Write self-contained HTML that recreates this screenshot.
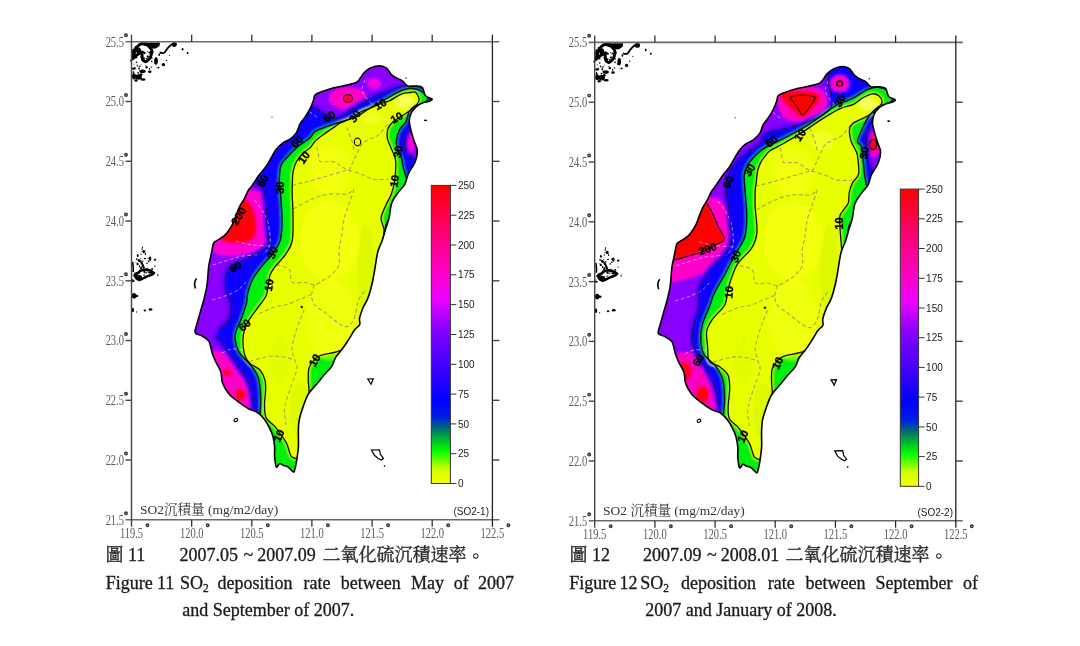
<!DOCTYPE html>
<html><head><meta charset="utf-8">
<style>
html,body{margin:0;padding:0;background:#fff;}
body{width:1080px;height:646px;overflow:hidden;position:relative;}
svg{position:absolute;left:0;top:0;}
.ax{font-family:"Liberation Serif",serif;font-size:15px;fill:#5a5a5a;}
.cb{font-family:"Liberation Sans",sans-serif;font-size:10px;fill:#222;}
.lab{font-family:"Liberation Serif","Noto Serif CJK SC",serif;font-size:13.5px;fill:#333;}
.cl{font-family:"Liberation Sans",sans-serif;font-size:11px;font-weight:bold;fill:#000;stroke:#000;stroke-width:0.35px;}
.tag{font-family:"Liberation Sans",sans-serif;font-size:10px;fill:#222;}
.cap{font-family:"Liberation Serif","Noto Serif CJK SC",serif;font-size:18px;fill:#1a1a1a;stroke:#1a1a1a;stroke-width:0.3px;}
.capz{font-family:"Liberation Serif","Noto Serif CJK SC",serif;font-size:18px;fill:#2a2a2a;stroke:#2a2a2a;stroke-width:0.35px;}
</style></head><body>
<svg width="1080" height="646" viewBox="0 0 1080 646">
<defs>
<linearGradient id="g1" x1="0" y1="1" x2="0" y2="0">
<stop offset="0" stop-color="#ffff00"/>
<stop offset="0.05" stop-color="#c8ff00"/>
<stop offset="0.11" stop-color="#00ff00"/>
<stop offset="0.16" stop-color="#00a040"/>
<stop offset="0.19" stop-color="#006080"/>
<stop offset="0.22" stop-color="#0020e0"/>
<stop offset="0.28" stop-color="#0000ff"/>
<stop offset="0.40" stop-color="#4400ff"/>
<stop offset="0.52" stop-color="#8800ff"/>
<stop offset="0.62" stop-color="#ee00ff"/>
<stop offset="0.72" stop-color="#ff00c0"/>
<stop offset="0.85" stop-color="#ff0070"/>
<stop offset="1" stop-color="#ff0000"/>
</linearGradient>
<linearGradient id="g2" x1="0" y1="1" x2="0" y2="0">
<stop offset="0" stop-color="#ffff00"/>
<stop offset="0.05" stop-color="#c8ff00"/>
<stop offset="0.11" stop-color="#00ff00"/>
<stop offset="0.16" stop-color="#00a040"/>
<stop offset="0.19" stop-color="#006080"/>
<stop offset="0.22" stop-color="#0020e0"/>
<stop offset="0.28" stop-color="#0000ff"/>
<stop offset="0.40" stop-color="#4400ff"/>
<stop offset="0.52" stop-color="#8800ff"/>
<stop offset="0.62" stop-color="#ee00ff"/>
<stop offset="0.72" stop-color="#ff00c0"/>
<stop offset="0.85" stop-color="#ff0070"/>
<stop offset="1" stop-color="#ff0000"/>
</linearGradient>
<filter id="blur3" x="-5%" y="-5%" width="110%" height="110%"><feGaussianBlur stdDeviation="1.3"/></filter>
</defs>
<!-- LEFT MAP -->
<path d="M132.5,58.6 C134,54 135,50 136.2,48 C138.5,45 141,43.5 142.4,43.7 C145.5,44 148,45 148.6,46.2 C151,48.5 152,50 151.7,51.1 C151.5,54 151,56 150.4,57.3 C148.5,60 147,61.5 145.5,61.7 C143.5,61 142.5,60 142.4,58.6 C142,56 142,54 141.8,52.4 C139.5,53 137.5,54.5 136.2,55.5 C134.5,57 133.5,58 132.5,58.6 Z" fill="none" stroke="#000" stroke-width="3"/>
<path d="M142,42.5 L160,42.5 L159.5,46 C157,48 155,49 153,48.5 C150,47.5 147,46 144,45.5 Z" fill="#000"/>
<path d="M159.7,52.4 C162,53.5 164,53 164.7,52.4 C166.5,50 167,48.5 168.4,47.4 C170,45.5 171.5,44 173.3,43.7" fill="none" stroke="#000" stroke-width="1.8"/>
<ellipse cx="174.3" cy="44.6" rx="2.6" ry="2.3" fill="#000"/>
<ellipse cx="156" cy="61" rx="1.8" ry="3.8" fill="#000"/>
<ellipse cx="163.4" cy="64.6" rx="1.7" ry="1.6" fill="#000"/>
<ellipse cx="158.5" cy="67.6" rx="1" ry="0.9" fill="#000"/>
<ellipse cx="169.6" cy="55.5" rx="0.6" ry="0.6" fill="#000"/>
<ellipse cx="166.5" cy="60.4" rx="0.7" ry="0.7" fill="#000"/>
<ellipse cx="182.6" cy="49.3" rx="0.9" ry="1.3" fill="#000"/>
<ellipse cx="187.6" cy="53" rx="1" ry="1" fill="#000"/>
<ellipse cx="133.7" cy="68.6" rx="1.8" ry="1.2" fill="#000"/>
<ellipse cx="142.5" cy="71.2" rx="3.2" ry="1.8" fill="#000"/>
<ellipse cx="149.8" cy="71.8" rx="1.8" ry="1.3" fill="#000"/>
<ellipse cx="138.5" cy="77" rx="3.3" ry="2.8" fill="#000"/>
<ellipse cx="134" cy="76.5" rx="2" ry="3" fill="#000"/>
<ellipse cx="141" cy="74.5" rx="1.5" ry="1.2" fill="#000"/>
<ellipse cx="136" cy="80.5" rx="1.6" ry="1.2" fill="#000"/>
<ellipse cx="143" cy="79.5" rx="2.5" ry="1.2" fill="#000"/>
<ellipse cx="139.9" cy="66.2" rx="0.8" ry="0.8" fill="#000"/>
<ellipse cx="138.8" cy="51" rx="2.2" ry="3.5" fill="#000"/>
<ellipse cx="133.5" cy="52" rx="1.5" ry="3.5" fill="#000"/>
<path d="M135,276 C138,272 141,270 145,269.5 C149,269.5 152,271 154,273 C153,275 150,275.5 147,276.5 C144,277.5 142,279.5 139.5,280 C137,279.5 135.5,278 135,276 Z" fill="none" stroke="#000" stroke-width="2.4"/>
<path d="M141,262 C142.5,264 143.5,266 144,268.5" fill="none" stroke="#000" stroke-width="2"/>
<path d="M132.6,262 C133.2,265 133.4,268.5 133.2,272" fill="none" stroke="#000" stroke-width="1.6"/>
<ellipse cx="143.9" cy="251.6" rx="1.6" ry="1.6" fill="#000"/>
<ellipse cx="137.7" cy="255.5" rx="0.9" ry="1.5" fill="#000"/>
<ellipse cx="142.4" cy="247.3" rx="0.5" ry="1" fill="#000"/>
<ellipse cx="150.1" cy="258.8" rx="1.2" ry="2.2" fill="#000"/>
<ellipse cx="147" cy="263.2" rx="0.8" ry="0.8" fill="#000"/>
<ellipse cx="139" cy="260.5" rx="1.2" ry="1.2" fill="#000"/>
<ellipse cx="154.8" cy="266.3" rx="0.7" ry="0.7" fill="#000"/>
<ellipse cx="157.9" cy="275" rx="0.5" ry="1.2" fill="#000"/>
<ellipse cx="133.1" cy="281" rx="1.6" ry="0.9" fill="#000"/>
<ellipse cx="139" cy="277" rx="3" ry="2" fill="#000"/>
<ellipse cx="151" cy="272.5" rx="3" ry="1.3" fill="#000"/>
<ellipse cx="134" cy="295.8" rx="2.2" ry="2.8" fill="#000"/>
<ellipse cx="136" cy="296" rx="2.5" ry="1.2" fill="#000"/>
<ellipse cx="132.8" cy="310" rx="1.2" ry="2.2" fill="#000"/>
<ellipse cx="144.9" cy="310.4" rx="1.3" ry="1" fill="#000"/>
<ellipse cx="150.5" cy="309.5" rx="1.9" ry="1.3" fill="#000"/>
<ellipse cx="136.5" cy="312" rx="0.5" ry="0.7" fill="#000"/>
<ellipse cx="138.6" cy="259.6" rx="0.99" ry="0.47" fill="#000"/>
<ellipse cx="140.6" cy="261.8" rx="0.45" ry="0.86" fill="#000"/>
<ellipse cx="135.9" cy="262.6" rx="0.46" ry="0.48" fill="#000"/>
<ellipse cx="139.5" cy="266.7" rx="0.51" ry="0.60" fill="#000"/>
<ellipse cx="141.5" cy="268.0" rx="0.92" ry="0.76" fill="#000"/>
<ellipse cx="144.8" cy="258.5" rx="1.17" ry="0.66" fill="#000"/>
<ellipse cx="136.9" cy="259.2" rx="0.68" ry="1.13" fill="#000"/>
<ellipse cx="137.2" cy="264.1" rx="0.98" ry="0.74" fill="#000"/>
<ellipse cx="140.7" cy="258.7" rx="0.45" ry="0.59" fill="#000"/>
<ellipse cx="142.0" cy="262.5" rx="0.68" ry="0.93" fill="#000"/>
<ellipse cx="139.8" cy="261.1" rx="1.11" ry="1.03" fill="#000"/>
<ellipse cx="137.8" cy="264.0" rx="0.87" ry="1.19" fill="#000"/>
<ellipse cx="142.4" cy="261.0" rx="1.28" ry="0.51" fill="#000"/>
<ellipse cx="139.5" cy="265.9" rx="0.54" ry="0.84" fill="#000"/>
<ellipse cx="139.2" cy="272.8" rx="1.01" ry="0.86" fill="#000"/>
<ellipse cx="152.1" cy="269.0" rx="0.96" ry="0.88" fill="#000"/>
<ellipse cx="147.5" cy="270.5" rx="1.07" ry="1.16" fill="#000"/>
<ellipse cx="145.9" cy="272.8" rx="0.45" ry="0.96" fill="#000"/>
<ellipse cx="148.6" cy="276.3" rx="1.06" ry="0.63" fill="#000"/>
<ellipse cx="144.5" cy="272.8" rx="0.42" ry="0.77" fill="#000"/>
<ellipse cx="141.2" cy="266.9" rx="0.45" ry="1.01" fill="#000"/>
<ellipse cx="140.6" cy="268.3" rx="0.71" ry="1.10" fill="#000"/>
<ellipse cx="139.8" cy="270.5" rx="0.84" ry="1.11" fill="#000"/>
<ellipse cx="151.2" cy="274.9" rx="0.62" ry="0.73" fill="#000"/>
<ellipse cx="144.1" cy="275.1" rx="1.17" ry="0.52" fill="#000"/>
<ellipse cx="141.3" cy="268.1" rx="0.59" ry="0.79" fill="#000"/>
<ellipse cx="147.7" cy="268.4" rx="0.40" ry="0.74" fill="#000"/>
<ellipse cx="144.3" cy="271.7" rx="1.16" ry="0.95" fill="#000"/>
<ellipse cx="146.5" cy="272.3" rx="0.94" ry="0.44" fill="#000"/>
<ellipse cx="152.5" cy="274.0" rx="1.10" ry="1.04" fill="#000"/>
<ellipse cx="144.6" cy="269.9" rx="0.48" ry="0.91" fill="#000"/>
<ellipse cx="139.6" cy="266.3" rx="0.57" ry="0.53" fill="#000"/>
<ellipse cx="135.0" cy="273.3" rx="0.40" ry="0.52" fill="#000"/>
<ellipse cx="133.2" cy="275.4" rx="0.42" ry="1.10" fill="#000"/>
<ellipse cx="137.1" cy="274.0" rx="0.60" ry="0.68" fill="#000"/>
<ellipse cx="135.2" cy="273.8" rx="1.08" ry="1.19" fill="#000"/>
<ellipse cx="135.9" cy="276.1" rx="0.47" ry="0.48" fill="#000"/>
<ellipse cx="135.0" cy="274.7" rx="1.06" ry="0.53" fill="#000"/>
<ellipse cx="132.6" cy="279.2" rx="0.82" ry="0.52" fill="#000"/>
<ellipse cx="136.5" cy="273.2" rx="0.82" ry="1.18" fill="#000"/>
<ellipse cx="145.4" cy="253.5" rx="0.50" ry="0.55" fill="#000"/>
<ellipse cx="141.1" cy="254.2" rx="0.61" ry="0.71" fill="#000"/>
<ellipse cx="142.1" cy="249.1" rx="0.72" ry="0.79" fill="#000"/>
<ellipse cx="145.4" cy="254.5" rx="0.73" ry="0.70" fill="#000"/>
<ellipse cx="141.4" cy="251.8" rx="0.54" ry="0.41" fill="#000"/>
<ellipse cx="148.2" cy="258.5" rx="0.53" ry="0.75" fill="#000"/>
<ellipse cx="155.3" cy="259.7" rx="0.87" ry="0.89" fill="#000"/>
<ellipse cx="155.3" cy="259.1" rx="0.51" ry="0.51" fill="#000"/>
<ellipse cx="149.5" cy="257.9" rx="0.71" ry="0.85" fill="#000"/>
<ellipse cx="154.4" cy="260.0" rx="0.73" ry="0.80" fill="#000"/>
<ellipse cx="148.6" cy="261.4" rx="0.85" ry="0.79" fill="#000"/>
<ellipse cx="153.0" cy="52.2" rx="0.56" ry="1.11" fill="#000"/>
<ellipse cx="141.3" cy="57.0" rx="1.27" ry="0.76" fill="#000"/>
<ellipse cx="143.2" cy="59.2" rx="1.05" ry="0.55" fill="#000"/>
<ellipse cx="135.6" cy="47.3" rx="1.21" ry="1.13" fill="#000"/>
<ellipse cx="136.1" cy="57.4" rx="1.28" ry="0.99" fill="#000"/>
<ellipse cx="141.8" cy="53.2" rx="0.52" ry="0.41" fill="#000"/>
<ellipse cx="159.2" cy="54.7" rx="0.87" ry="1.24" fill="#000"/>
<ellipse cx="144.1" cy="58.1" rx="1.14" ry="0.59" fill="#000"/>
<ellipse cx="139.1" cy="49.4" rx="0.62" ry="0.93" fill="#000"/>
<ellipse cx="139.3" cy="51.3" rx="0.52" ry="1.22" fill="#000"/>
<ellipse cx="141.9" cy="51.9" rx="0.93" ry="1.21" fill="#000"/>
<ellipse cx="143.8" cy="58.8" rx="0.85" ry="0.88" fill="#000"/>
<ellipse cx="146.7" cy="45.3" rx="0.80" ry="0.56" fill="#000"/>
<ellipse cx="132.1" cy="57.0" rx="0.56" ry="0.83" fill="#000"/>
<ellipse cx="152.3" cy="53.3" rx="0.69" ry="0.87" fill="#000"/>
<ellipse cx="147.6" cy="56.8" rx="0.50" ry="0.90" fill="#000"/>
<ellipse cx="139.0" cy="49.2" rx="1.10" ry="0.86" fill="#000"/>
<ellipse cx="147.7" cy="56.4" rx="1.22" ry="0.80" fill="#000"/>
<ellipse cx="149.2" cy="52.6" rx="0.86" ry="1.02" fill="#000"/>
<ellipse cx="144.7" cy="53.0" rx="0.83" ry="1.25" fill="#000"/>
<ellipse cx="151.6" cy="58.1" rx="1.25" ry="0.63" fill="#000"/>
<ellipse cx="147.7" cy="59.1" rx="1.16" ry="0.52" fill="#000"/>
<ellipse cx="135.4" cy="51.6" rx="0.47" ry="0.62" fill="#000"/>
<ellipse cx="134.0" cy="55.0" rx="1.11" ry="1.21" fill="#000"/>
<ellipse cx="136.3" cy="55.7" rx="0.99" ry="0.53" fill="#000"/>
<ellipse cx="156.7" cy="59.5" rx="0.60" ry="1.26" fill="#000"/>
<ellipse cx="143.2" cy="52.3" rx="1.29" ry="1.15" fill="#000"/>
<ellipse cx="136.5" cy="51.5" rx="0.86" ry="0.71" fill="#000"/>
<ellipse cx="137.5" cy="49.8" rx="1.05" ry="0.42" fill="#000"/>
<ellipse cx="147.5" cy="51.6" rx="0.42" ry="0.70" fill="#000"/>
<ellipse cx="154.4" cy="63.1" rx="0.44" ry="0.99" fill="#000"/>
<ellipse cx="156.8" cy="67.7" rx="0.46" ry="0.56" fill="#000"/>
<ellipse cx="145.6" cy="65.8" rx="0.56" ry="0.48" fill="#000"/>
<ellipse cx="151.3" cy="67.1" rx="0.89" ry="0.56" fill="#000"/>
<ellipse cx="147.2" cy="67.2" rx="0.74" ry="0.82" fill="#000"/>
<ellipse cx="146.3" cy="58.6" rx="0.81" ry="0.66" fill="#000"/>
<ellipse cx="146.1" cy="67.4" rx="0.78" ry="0.88" fill="#000"/>
<ellipse cx="146.3" cy="66.6" rx="0.44" ry="0.92" fill="#000"/>
<ellipse cx="151.8" cy="61.4" rx="0.73" ry="0.96" fill="#000"/>
<ellipse cx="149.0" cy="59.3" rx="0.72" ry="0.54" fill="#000"/>
<ellipse cx="134.0" cy="64.1" rx="0.44" ry="0.54" fill="#000"/>
<ellipse cx="137.6" cy="66.0" rx="0.93" ry="0.60" fill="#000"/>
<ellipse cx="141.0" cy="64.3" rx="0.64" ry="0.41" fill="#000"/>
<ellipse cx="136.5" cy="62.2" rx="0.91" ry="0.79" fill="#000"/>
<ellipse cx="135.4" cy="68.2" rx="1.05" ry="0.47" fill="#000"/>
<ellipse cx="146.7" cy="67.6" rx="0.75" ry="0.98" fill="#000"/>
<ellipse cx="139.1" cy="68.6" rx="0.88" ry="1.09" fill="#000"/>
<ellipse cx="138.2" cy="72.8" rx="0.89" ry="0.85" fill="#000"/>
<ellipse cx="139.3" cy="66.5" rx="0.44" ry="0.49" fill="#000"/>
<ellipse cx="133.3" cy="71.6" rx="0.58" ry="0.51" fill="#000"/>
<ellipse cx="133.5" cy="72.9" rx="1.01" ry="0.87" fill="#000"/>
<ellipse cx="137.1" cy="65.1" rx="0.61" ry="0.72" fill="#000"/>
<ellipse cx="134.8" cy="67.8" rx="0.58" ry="1.07" fill="#000"/>
<ellipse cx="149.5" cy="69.1" rx="0.57" ry="1.08" fill="#000"/>
<path d="M196.5,278.5 C194.5,281 194.2,285 195.5,288.5" fill="none" stroke="#000" stroke-width="1.6"/>
<path d="M367.8,379 L373.3,378.8 L371,384.3 Z" fill="none" stroke="#000" stroke-width="1.2"/>
<path d="M371.5,450 L379.5,449.8 L380.4,454.5 L383.5,458.3 L381.4,460 L378.2,458.5 L374.4,455.3 Z" fill="none" stroke="#000" stroke-width="1.2"/>
<ellipse cx="384.5" cy="466.1" rx="0.8" ry="0.8" fill="#000"/>
<ellipse cx="235.8" cy="420" rx="2" ry="1.5" fill="none" stroke="#000" stroke-width="1.1" transform="rotate(-30 235.8 420)"/>
<ellipse cx="425.5" cy="120.3" rx="1.6" ry="0.9" fill="#000"/>
<ellipse cx="406" cy="78" rx="0.7" ry="0.7" fill="#000"/>
<ellipse cx="272" cy="117" rx="0.6" ry="0.6" fill="#000"/>
<g transform="translate(463.2 0.8)"><path d="M132.5,58.6 C134,54 135,50 136.2,48 C138.5,45 141,43.5 142.4,43.7 C145.5,44 148,45 148.6,46.2 C151,48.5 152,50 151.7,51.1 C151.5,54 151,56 150.4,57.3 C148.5,60 147,61.5 145.5,61.7 C143.5,61 142.5,60 142.4,58.6 C142,56 142,54 141.8,52.4 C139.5,53 137.5,54.5 136.2,55.5 C134.5,57 133.5,58 132.5,58.6 Z" fill="none" stroke="#000" stroke-width="3"/>
<path d="M142,42.5 L160,42.5 L159.5,46 C157,48 155,49 153,48.5 C150,47.5 147,46 144,45.5 Z" fill="#000"/>
<path d="M159.7,52.4 C162,53.5 164,53 164.7,52.4 C166.5,50 167,48.5 168.4,47.4 C170,45.5 171.5,44 173.3,43.7" fill="none" stroke="#000" stroke-width="1.8"/>
<ellipse cx="174.3" cy="44.6" rx="2.6" ry="2.3" fill="#000"/>
<ellipse cx="156" cy="61" rx="1.8" ry="3.8" fill="#000"/>
<ellipse cx="163.4" cy="64.6" rx="1.7" ry="1.6" fill="#000"/>
<ellipse cx="158.5" cy="67.6" rx="1" ry="0.9" fill="#000"/>
<ellipse cx="169.6" cy="55.5" rx="0.6" ry="0.6" fill="#000"/>
<ellipse cx="166.5" cy="60.4" rx="0.7" ry="0.7" fill="#000"/>
<ellipse cx="182.6" cy="49.3" rx="0.9" ry="1.3" fill="#000"/>
<ellipse cx="187.6" cy="53" rx="1" ry="1" fill="#000"/>
<ellipse cx="133.7" cy="68.6" rx="1.8" ry="1.2" fill="#000"/>
<ellipse cx="142.5" cy="71.2" rx="3.2" ry="1.8" fill="#000"/>
<ellipse cx="149.8" cy="71.8" rx="1.8" ry="1.3" fill="#000"/>
<ellipse cx="138.5" cy="77" rx="3.3" ry="2.8" fill="#000"/>
<ellipse cx="134" cy="76.5" rx="2" ry="3" fill="#000"/>
<ellipse cx="141" cy="74.5" rx="1.5" ry="1.2" fill="#000"/>
<ellipse cx="136" cy="80.5" rx="1.6" ry="1.2" fill="#000"/>
<ellipse cx="143" cy="79.5" rx="2.5" ry="1.2" fill="#000"/>
<ellipse cx="139.9" cy="66.2" rx="0.8" ry="0.8" fill="#000"/>
<ellipse cx="138.8" cy="51" rx="2.2" ry="3.5" fill="#000"/>
<ellipse cx="133.5" cy="52" rx="1.5" ry="3.5" fill="#000"/>
<path d="M135,276 C138,272 141,270 145,269.5 C149,269.5 152,271 154,273 C153,275 150,275.5 147,276.5 C144,277.5 142,279.5 139.5,280 C137,279.5 135.5,278 135,276 Z" fill="none" stroke="#000" stroke-width="2.4"/>
<path d="M141,262 C142.5,264 143.5,266 144,268.5" fill="none" stroke="#000" stroke-width="2"/>
<path d="M132.6,262 C133.2,265 133.4,268.5 133.2,272" fill="none" stroke="#000" stroke-width="1.6"/>
<ellipse cx="143.9" cy="251.6" rx="1.6" ry="1.6" fill="#000"/>
<ellipse cx="137.7" cy="255.5" rx="0.9" ry="1.5" fill="#000"/>
<ellipse cx="142.4" cy="247.3" rx="0.5" ry="1" fill="#000"/>
<ellipse cx="150.1" cy="258.8" rx="1.2" ry="2.2" fill="#000"/>
<ellipse cx="147" cy="263.2" rx="0.8" ry="0.8" fill="#000"/>
<ellipse cx="139" cy="260.5" rx="1.2" ry="1.2" fill="#000"/>
<ellipse cx="154.8" cy="266.3" rx="0.7" ry="0.7" fill="#000"/>
<ellipse cx="157.9" cy="275" rx="0.5" ry="1.2" fill="#000"/>
<ellipse cx="133.1" cy="281" rx="1.6" ry="0.9" fill="#000"/>
<ellipse cx="139" cy="277" rx="3" ry="2" fill="#000"/>
<ellipse cx="151" cy="272.5" rx="3" ry="1.3" fill="#000"/>
<ellipse cx="134" cy="295.8" rx="2.2" ry="2.8" fill="#000"/>
<ellipse cx="136" cy="296" rx="2.5" ry="1.2" fill="#000"/>
<ellipse cx="132.8" cy="310" rx="1.2" ry="2.2" fill="#000"/>
<ellipse cx="144.9" cy="310.4" rx="1.3" ry="1" fill="#000"/>
<ellipse cx="150.5" cy="309.5" rx="1.9" ry="1.3" fill="#000"/>
<ellipse cx="136.5" cy="312" rx="0.5" ry="0.7" fill="#000"/>
<ellipse cx="138.6" cy="259.6" rx="0.99" ry="0.47" fill="#000"/>
<ellipse cx="140.6" cy="261.8" rx="0.45" ry="0.86" fill="#000"/>
<ellipse cx="135.9" cy="262.6" rx="0.46" ry="0.48" fill="#000"/>
<ellipse cx="139.5" cy="266.7" rx="0.51" ry="0.60" fill="#000"/>
<ellipse cx="141.5" cy="268.0" rx="0.92" ry="0.76" fill="#000"/>
<ellipse cx="144.8" cy="258.5" rx="1.17" ry="0.66" fill="#000"/>
<ellipse cx="136.9" cy="259.2" rx="0.68" ry="1.13" fill="#000"/>
<ellipse cx="137.2" cy="264.1" rx="0.98" ry="0.74" fill="#000"/>
<ellipse cx="140.7" cy="258.7" rx="0.45" ry="0.59" fill="#000"/>
<ellipse cx="142.0" cy="262.5" rx="0.68" ry="0.93" fill="#000"/>
<ellipse cx="139.8" cy="261.1" rx="1.11" ry="1.03" fill="#000"/>
<ellipse cx="137.8" cy="264.0" rx="0.87" ry="1.19" fill="#000"/>
<ellipse cx="142.4" cy="261.0" rx="1.28" ry="0.51" fill="#000"/>
<ellipse cx="139.5" cy="265.9" rx="0.54" ry="0.84" fill="#000"/>
<ellipse cx="139.2" cy="272.8" rx="1.01" ry="0.86" fill="#000"/>
<ellipse cx="152.1" cy="269.0" rx="0.96" ry="0.88" fill="#000"/>
<ellipse cx="147.5" cy="270.5" rx="1.07" ry="1.16" fill="#000"/>
<ellipse cx="145.9" cy="272.8" rx="0.45" ry="0.96" fill="#000"/>
<ellipse cx="148.6" cy="276.3" rx="1.06" ry="0.63" fill="#000"/>
<ellipse cx="144.5" cy="272.8" rx="0.42" ry="0.77" fill="#000"/>
<ellipse cx="141.2" cy="266.9" rx="0.45" ry="1.01" fill="#000"/>
<ellipse cx="140.6" cy="268.3" rx="0.71" ry="1.10" fill="#000"/>
<ellipse cx="139.8" cy="270.5" rx="0.84" ry="1.11" fill="#000"/>
<ellipse cx="151.2" cy="274.9" rx="0.62" ry="0.73" fill="#000"/>
<ellipse cx="144.1" cy="275.1" rx="1.17" ry="0.52" fill="#000"/>
<ellipse cx="141.3" cy="268.1" rx="0.59" ry="0.79" fill="#000"/>
<ellipse cx="147.7" cy="268.4" rx="0.40" ry="0.74" fill="#000"/>
<ellipse cx="144.3" cy="271.7" rx="1.16" ry="0.95" fill="#000"/>
<ellipse cx="146.5" cy="272.3" rx="0.94" ry="0.44" fill="#000"/>
<ellipse cx="152.5" cy="274.0" rx="1.10" ry="1.04" fill="#000"/>
<ellipse cx="144.6" cy="269.9" rx="0.48" ry="0.91" fill="#000"/>
<ellipse cx="139.6" cy="266.3" rx="0.57" ry="0.53" fill="#000"/>
<ellipse cx="135.0" cy="273.3" rx="0.40" ry="0.52" fill="#000"/>
<ellipse cx="133.2" cy="275.4" rx="0.42" ry="1.10" fill="#000"/>
<ellipse cx="137.1" cy="274.0" rx="0.60" ry="0.68" fill="#000"/>
<ellipse cx="135.2" cy="273.8" rx="1.08" ry="1.19" fill="#000"/>
<ellipse cx="135.9" cy="276.1" rx="0.47" ry="0.48" fill="#000"/>
<ellipse cx="135.0" cy="274.7" rx="1.06" ry="0.53" fill="#000"/>
<ellipse cx="132.6" cy="279.2" rx="0.82" ry="0.52" fill="#000"/>
<ellipse cx="136.5" cy="273.2" rx="0.82" ry="1.18" fill="#000"/>
<ellipse cx="145.4" cy="253.5" rx="0.50" ry="0.55" fill="#000"/>
<ellipse cx="141.1" cy="254.2" rx="0.61" ry="0.71" fill="#000"/>
<ellipse cx="142.1" cy="249.1" rx="0.72" ry="0.79" fill="#000"/>
<ellipse cx="145.4" cy="254.5" rx="0.73" ry="0.70" fill="#000"/>
<ellipse cx="141.4" cy="251.8" rx="0.54" ry="0.41" fill="#000"/>
<ellipse cx="148.2" cy="258.5" rx="0.53" ry="0.75" fill="#000"/>
<ellipse cx="155.3" cy="259.7" rx="0.87" ry="0.89" fill="#000"/>
<ellipse cx="155.3" cy="259.1" rx="0.51" ry="0.51" fill="#000"/>
<ellipse cx="149.5" cy="257.9" rx="0.71" ry="0.85" fill="#000"/>
<ellipse cx="154.4" cy="260.0" rx="0.73" ry="0.80" fill="#000"/>
<ellipse cx="148.6" cy="261.4" rx="0.85" ry="0.79" fill="#000"/>
<ellipse cx="153.0" cy="52.2" rx="0.56" ry="1.11" fill="#000"/>
<ellipse cx="141.3" cy="57.0" rx="1.27" ry="0.76" fill="#000"/>
<ellipse cx="143.2" cy="59.2" rx="1.05" ry="0.55" fill="#000"/>
<ellipse cx="135.6" cy="47.3" rx="1.21" ry="1.13" fill="#000"/>
<ellipse cx="136.1" cy="57.4" rx="1.28" ry="0.99" fill="#000"/>
<ellipse cx="141.8" cy="53.2" rx="0.52" ry="0.41" fill="#000"/>
<ellipse cx="159.2" cy="54.7" rx="0.87" ry="1.24" fill="#000"/>
<ellipse cx="144.1" cy="58.1" rx="1.14" ry="0.59" fill="#000"/>
<ellipse cx="139.1" cy="49.4" rx="0.62" ry="0.93" fill="#000"/>
<ellipse cx="139.3" cy="51.3" rx="0.52" ry="1.22" fill="#000"/>
<ellipse cx="141.9" cy="51.9" rx="0.93" ry="1.21" fill="#000"/>
<ellipse cx="143.8" cy="58.8" rx="0.85" ry="0.88" fill="#000"/>
<ellipse cx="146.7" cy="45.3" rx="0.80" ry="0.56" fill="#000"/>
<ellipse cx="132.1" cy="57.0" rx="0.56" ry="0.83" fill="#000"/>
<ellipse cx="152.3" cy="53.3" rx="0.69" ry="0.87" fill="#000"/>
<ellipse cx="147.6" cy="56.8" rx="0.50" ry="0.90" fill="#000"/>
<ellipse cx="139.0" cy="49.2" rx="1.10" ry="0.86" fill="#000"/>
<ellipse cx="147.7" cy="56.4" rx="1.22" ry="0.80" fill="#000"/>
<ellipse cx="149.2" cy="52.6" rx="0.86" ry="1.02" fill="#000"/>
<ellipse cx="144.7" cy="53.0" rx="0.83" ry="1.25" fill="#000"/>
<ellipse cx="151.6" cy="58.1" rx="1.25" ry="0.63" fill="#000"/>
<ellipse cx="147.7" cy="59.1" rx="1.16" ry="0.52" fill="#000"/>
<ellipse cx="135.4" cy="51.6" rx="0.47" ry="0.62" fill="#000"/>
<ellipse cx="134.0" cy="55.0" rx="1.11" ry="1.21" fill="#000"/>
<ellipse cx="136.3" cy="55.7" rx="0.99" ry="0.53" fill="#000"/>
<ellipse cx="156.7" cy="59.5" rx="0.60" ry="1.26" fill="#000"/>
<ellipse cx="143.2" cy="52.3" rx="1.29" ry="1.15" fill="#000"/>
<ellipse cx="136.5" cy="51.5" rx="0.86" ry="0.71" fill="#000"/>
<ellipse cx="137.5" cy="49.8" rx="1.05" ry="0.42" fill="#000"/>
<ellipse cx="147.5" cy="51.6" rx="0.42" ry="0.70" fill="#000"/>
<ellipse cx="154.4" cy="63.1" rx="0.44" ry="0.99" fill="#000"/>
<ellipse cx="156.8" cy="67.7" rx="0.46" ry="0.56" fill="#000"/>
<ellipse cx="145.6" cy="65.8" rx="0.56" ry="0.48" fill="#000"/>
<ellipse cx="151.3" cy="67.1" rx="0.89" ry="0.56" fill="#000"/>
<ellipse cx="147.2" cy="67.2" rx="0.74" ry="0.82" fill="#000"/>
<ellipse cx="146.3" cy="58.6" rx="0.81" ry="0.66" fill="#000"/>
<ellipse cx="146.1" cy="67.4" rx="0.78" ry="0.88" fill="#000"/>
<ellipse cx="146.3" cy="66.6" rx="0.44" ry="0.92" fill="#000"/>
<ellipse cx="151.8" cy="61.4" rx="0.73" ry="0.96" fill="#000"/>
<ellipse cx="149.0" cy="59.3" rx="0.72" ry="0.54" fill="#000"/>
<ellipse cx="134.0" cy="64.1" rx="0.44" ry="0.54" fill="#000"/>
<ellipse cx="137.6" cy="66.0" rx="0.93" ry="0.60" fill="#000"/>
<ellipse cx="141.0" cy="64.3" rx="0.64" ry="0.41" fill="#000"/>
<ellipse cx="136.5" cy="62.2" rx="0.91" ry="0.79" fill="#000"/>
<ellipse cx="135.4" cy="68.2" rx="1.05" ry="0.47" fill="#000"/>
<ellipse cx="146.7" cy="67.6" rx="0.75" ry="0.98" fill="#000"/>
<ellipse cx="139.1" cy="68.6" rx="0.88" ry="1.09" fill="#000"/>
<ellipse cx="138.2" cy="72.8" rx="0.89" ry="0.85" fill="#000"/>
<ellipse cx="139.3" cy="66.5" rx="0.44" ry="0.49" fill="#000"/>
<ellipse cx="133.3" cy="71.6" rx="0.58" ry="0.51" fill="#000"/>
<ellipse cx="133.5" cy="72.9" rx="1.01" ry="0.87" fill="#000"/>
<ellipse cx="137.1" cy="65.1" rx="0.61" ry="0.72" fill="#000"/>
<ellipse cx="134.8" cy="67.8" rx="0.58" ry="1.07" fill="#000"/>
<ellipse cx="149.5" cy="69.1" rx="0.57" ry="1.08" fill="#000"/>
<path d="M196.5,278.5 C194.5,281 194.2,285 195.5,288.5" fill="none" stroke="#000" stroke-width="1.6"/>
<path d="M367.8,379 L373.3,378.8 L371,384.3 Z" fill="none" stroke="#000" stroke-width="1.2"/>
<path d="M371.5,450 L379.5,449.8 L380.4,454.5 L383.5,458.3 L381.4,460 L378.2,458.5 L374.4,455.3 Z" fill="none" stroke="#000" stroke-width="1.2"/>
<ellipse cx="384.5" cy="466.1" rx="0.8" ry="0.8" fill="#000"/>
<ellipse cx="235.8" cy="420" rx="2" ry="1.5" fill="none" stroke="#000" stroke-width="1.1" transform="rotate(-30 235.8 420)"/>
<ellipse cx="425.5" cy="120.3" rx="1.6" ry="0.9" fill="#000"/>
<ellipse cx="406" cy="78" rx="0.7" ry="0.7" fill="#000"/>
<ellipse cx="272" cy="117" rx="0.6" ry="0.6" fill="#000"/></g>
<clipPath id="clipL"><path d="M315.0,95.0 C316.3,93.6 318.8,92.8 321.5,91.7 C324.2,90.6 327.8,89.4 331.3,88.4 C334.8,87.5 338.6,86.9 342.6,86.0 C346.7,85.1 352.6,84.1 355.6,82.8 C358.6,81.5 359.1,79.5 360.5,77.9 C361.9,76.3 362.2,74.6 363.8,73.0 C365.4,71.4 367.6,69.3 370.3,68.1 C373.0,66.9 377.3,65.7 380.0,65.7 C382.7,65.7 384.6,66.6 386.5,68.1 C388.4,69.6 389.8,73.0 391.4,74.6 C393.0,76.2 394.4,76.8 396.3,77.9 C398.2,79.0 400.9,79.8 402.8,81.1 C404.7,82.4 405.5,85.2 407.7,86.0 C409.9,86.8 413.4,85.7 415.8,86.0 C418.2,86.3 420.7,86.0 422.3,87.6 C423.9,89.2 423.9,93.9 425.5,95.8 C427.1,97.7 431.4,98.1 432.0,99.0 C432.6,99.9 430.4,100.7 428.8,101.4 C427.2,102.1 424.5,102.1 422.3,103.1 C420.1,104.0 417.7,105.3 415.8,107.1 C413.9,108.8 412.0,111.1 410.9,113.6 C409.8,116.0 409.3,119.1 409.3,121.8 C409.3,124.5 410.1,126.7 410.9,129.9 C411.7,133.2 413.1,137.8 414.2,141.3 C415.3,144.8 417.2,147.6 417.4,151.0 C417.5,154.4 416.6,158.1 415.1,161.9 C413.6,165.7 410.0,170.1 408.3,173.8 C406.6,177.5 406.6,181.0 404.9,184.1 C403.2,187.2 400.3,189.5 398.1,192.6 C395.9,195.7 393.3,198.6 391.8,202.8 C390.3,207.1 390.0,213.8 389.0,218.1 C388.0,222.3 386.9,224.6 385.8,228.3 C384.7,232.0 383.7,236.2 382.3,240.2 C380.9,244.2 378.9,247.5 377.7,252.2 C376.5,256.9 375.8,263.6 374.9,268.6 C374.0,273.6 373.5,277.4 372.4,282.2 C371.3,287.0 369.7,293.3 368.1,297.6 C366.5,301.9 364.4,304.4 363.0,307.8 C361.6,311.2 360.2,315.2 359.6,318.0 C359.0,320.8 360.5,322.8 359.6,324.8 C358.8,326.8 356.2,327.6 354.5,329.9 C352.8,332.2 351.4,335.3 349.4,338.4 C347.4,341.5 344.9,345.5 342.6,348.6 C340.3,351.7 337.6,354.3 335.8,357.2 C334.0,360.1 334.0,363.0 332.0,366.0 C330.0,369.0 326.5,372.1 324.0,375.0 C321.5,377.9 319.8,380.4 317.2,383.5 C314.6,386.6 310.9,390.0 308.6,393.7 C306.3,397.4 305.1,401.3 303.5,405.6 C301.9,409.9 300.2,415.0 299.3,419.3 C298.4,423.6 298.5,426.7 298.4,431.2 C298.2,435.7 298.7,441.7 298.4,446.5 C298.1,451.3 297.3,456.4 296.7,460.1 C296.1,463.8 295.6,466.6 295.0,468.6 C294.4,470.6 294.4,472.3 293.3,472.0 C292.2,471.7 289.9,468.1 288.2,467.0 C286.5,465.9 284.5,465.8 283.1,465.2 C281.7,464.6 280.8,463.2 279.7,463.5 C278.6,463.8 277.1,468.1 276.3,467.0 C275.5,465.9 274.9,460.1 274.6,456.7 C274.3,453.3 274.9,449.9 274.6,446.5 C274.3,443.1 273.8,439.4 272.9,436.3 C272.0,433.2 270.9,430.6 269.5,427.8 C268.1,425.0 266.4,421.9 264.4,419.3 C262.4,416.8 260.2,414.2 257.6,412.5 C255.1,410.8 252.2,410.8 249.1,409.1 C246.0,407.4 242.2,404.7 238.8,402.2 C235.5,399.7 231.7,397.2 229.0,394.0 C226.3,390.8 223.9,386.7 222.5,383.0 C221.1,379.3 222.0,375.3 220.8,371.7 C219.7,368.1 217.0,364.6 215.6,361.5 C214.2,358.4 213.3,356.4 212.2,353.0 C211.1,349.6 210.5,343.9 208.8,341.1 C207.1,338.3 204.3,337.4 202.0,336.0 C199.7,334.6 196.0,334.6 195.2,332.6 C194.3,330.6 196.1,327.5 196.9,324.1 C197.8,320.7 199.2,316.1 200.3,312.1 C201.4,308.1 202.6,304.7 203.7,300.2 C204.8,295.7 206.2,290.6 207.0,285.0 C207.8,279.4 208.1,271.1 208.7,266.6 C209.3,262.1 209.8,260.9 210.4,258.1 C211.0,255.3 211.5,252.2 212.1,249.6 C212.7,247.0 212.7,244.5 213.8,242.8 C214.9,241.1 216.9,240.8 218.9,239.4 C220.9,238.0 223.5,236.9 225.8,234.3 C228.1,231.8 230.9,227.2 232.6,224.1 C234.3,221.0 234.9,218.3 236.0,215.5 C237.1,212.7 238.0,209.8 239.4,207.0 C240.8,204.2 243.1,201.2 244.5,198.5 C245.9,195.8 246.7,193.2 248.0,191.0 C249.3,188.8 250.3,188.1 252.2,185.4 C254.0,182.8 256.8,178.2 259.1,175.1 C261.4,172.0 263.9,169.4 265.9,166.6 C267.9,163.8 269.3,160.9 271.0,158.1 C272.7,155.3 274.1,152.1 276.1,149.6 C278.1,147.1 280.6,144.5 282.9,142.8 C285.2,141.1 287.4,141.1 289.7,139.4 C292.0,137.7 294.8,135.2 296.5,132.6 C298.2,130.0 298.5,126.7 299.9,124.1 C301.3,121.5 303.3,119.8 305.0,117.2 C306.7,114.6 308.7,111.5 310.1,108.7 C311.5,105.9 312.7,102.5 313.5,100.2 C314.3,97.9 313.7,96.4 315.0,95.0Z"/></clipPath>
<g clip-path="url(#clipL)">
<g filter="url(#blur3)">
<path d="M315.0,95.0 C316.3,93.6 318.8,92.8 321.5,91.7 C324.2,90.6 327.8,89.4 331.3,88.4 C334.8,87.5 338.6,86.9 342.6,86.0 C346.7,85.1 352.6,84.1 355.6,82.8 C358.6,81.5 359.1,79.5 360.5,77.9 C361.9,76.3 362.2,74.6 363.8,73.0 C365.4,71.4 367.6,69.3 370.3,68.1 C373.0,66.9 377.3,65.7 380.0,65.7 C382.7,65.7 384.6,66.6 386.5,68.1 C388.4,69.6 389.8,73.0 391.4,74.6 C393.0,76.2 394.4,76.8 396.3,77.9 C398.2,79.0 400.9,79.8 402.8,81.1 C404.7,82.4 405.5,85.2 407.7,86.0 C409.9,86.8 413.4,85.7 415.8,86.0 C418.2,86.3 420.7,86.0 422.3,87.6 C423.9,89.2 423.9,93.9 425.5,95.8 C427.1,97.7 431.4,98.1 432.0,99.0 C432.6,99.9 430.4,100.7 428.8,101.4 C427.2,102.1 424.5,102.1 422.3,103.1 C420.1,104.0 417.7,105.3 415.8,107.1 C413.9,108.8 412.0,111.1 410.9,113.6 C409.8,116.0 409.3,119.1 409.3,121.8 C409.3,124.5 410.1,126.7 410.9,129.9 C411.7,133.2 413.1,137.8 414.2,141.3 C415.3,144.8 417.2,147.6 417.4,151.0 C417.5,154.4 416.6,158.1 415.1,161.9 C413.6,165.7 410.0,170.1 408.3,173.8 C406.6,177.5 406.6,181.0 404.9,184.1 C403.2,187.2 400.3,189.5 398.1,192.6 C395.9,195.7 393.3,198.6 391.8,202.8 C390.3,207.1 390.0,213.8 389.0,218.1 C388.0,222.3 386.9,224.6 385.8,228.3 C384.7,232.0 383.7,236.2 382.3,240.2 C380.9,244.2 378.9,247.5 377.7,252.2 C376.5,256.9 375.8,263.6 374.9,268.6 C374.0,273.6 373.5,277.4 372.4,282.2 C371.3,287.0 369.7,293.3 368.1,297.6 C366.5,301.9 364.4,304.4 363.0,307.8 C361.6,311.2 360.2,315.2 359.6,318.0 C359.0,320.8 360.5,322.8 359.6,324.8 C358.8,326.8 356.2,327.6 354.5,329.9 C352.8,332.2 351.4,335.3 349.4,338.4 C347.4,341.5 344.9,345.5 342.6,348.6 C340.3,351.7 337.6,354.3 335.8,357.2 C334.0,360.1 334.0,363.0 332.0,366.0 C330.0,369.0 326.5,372.1 324.0,375.0 C321.5,377.9 319.8,380.4 317.2,383.5 C314.6,386.6 310.9,390.0 308.6,393.7 C306.3,397.4 305.1,401.3 303.5,405.6 C301.9,409.9 300.2,415.0 299.3,419.3 C298.4,423.6 298.5,426.7 298.4,431.2 C298.2,435.7 298.7,441.7 298.4,446.5 C298.1,451.3 297.3,456.4 296.7,460.1 C296.1,463.8 295.6,466.6 295.0,468.6 C294.4,470.6 294.4,472.3 293.3,472.0 C292.2,471.7 289.9,468.1 288.2,467.0 C286.5,465.9 284.5,465.8 283.1,465.2 C281.7,464.6 280.8,463.2 279.7,463.5 C278.6,463.8 277.1,468.1 276.3,467.0 C275.5,465.9 274.9,460.1 274.6,456.7 C274.3,453.3 274.9,449.9 274.6,446.5 C274.3,443.1 273.8,439.4 272.9,436.3 C272.0,433.2 270.9,430.6 269.5,427.8 C268.1,425.0 266.4,421.9 264.4,419.3 C262.4,416.8 260.2,414.2 257.6,412.5 C255.1,410.8 252.2,410.8 249.1,409.1 C246.0,407.4 242.2,404.7 238.8,402.2 C235.5,399.7 231.7,397.2 229.0,394.0 C226.3,390.8 223.9,386.7 222.5,383.0 C221.1,379.3 222.0,375.3 220.8,371.7 C219.7,368.1 217.0,364.6 215.6,361.5 C214.2,358.4 213.3,356.4 212.2,353.0 C211.1,349.6 210.5,343.9 208.8,341.1 C207.1,338.3 204.3,337.4 202.0,336.0 C199.7,334.6 196.0,334.6 195.2,332.6 C194.3,330.6 196.1,327.5 196.9,324.1 C197.8,320.7 199.2,316.1 200.3,312.1 C201.4,308.1 202.6,304.7 203.7,300.2 C204.8,295.7 206.2,290.6 207.0,285.0 C207.8,279.4 208.1,271.1 208.7,266.6 C209.3,262.1 209.8,260.9 210.4,258.1 C211.0,255.3 211.5,252.2 212.1,249.6 C212.7,247.0 212.7,244.5 213.8,242.8 C214.9,241.1 216.9,240.8 218.9,239.4 C220.9,238.0 223.5,236.9 225.8,234.3 C228.1,231.8 230.9,227.2 232.6,224.1 C234.3,221.0 234.9,218.3 236.0,215.5 C237.1,212.7 238.0,209.8 239.4,207.0 C240.8,204.2 243.1,201.2 244.5,198.5 C245.9,195.8 246.7,193.2 248.0,191.0 C249.3,188.8 250.3,188.1 252.2,185.4 C254.0,182.8 256.8,178.2 259.1,175.1 C261.4,172.0 263.9,169.4 265.9,166.6 C267.9,163.8 269.3,160.9 271.0,158.1 C272.7,155.3 274.1,152.1 276.1,149.6 C278.1,147.1 280.6,144.5 282.9,142.8 C285.2,141.1 287.4,141.1 289.7,139.4 C292.0,137.7 294.8,135.2 296.5,132.6 C298.2,130.0 298.5,126.7 299.9,124.1 C301.3,121.5 303.3,119.8 305.0,117.2 C306.7,114.6 308.7,111.5 310.1,108.7 C311.5,105.9 312.7,102.5 313.5,100.2 C314.3,97.9 313.7,96.4 315.0,95.0Z" fill="#8a00ff" stroke="#8a00ff" stroke-width="8"/>
<path d="M243.0,190.0 C247.0,189.3 258.0,189.8 262.0,194.0 C266.0,198.2 266.2,207.3 267.0,215.0 C267.8,222.7 267.8,234.2 267.0,240.0 C266.2,245.8 265.7,247.7 262.0,250.0 C258.3,252.3 250.7,253.0 245.0,254.0 C239.3,255.0 233.2,256.3 228.0,256.0 C222.8,255.7 216.0,254.7 214.0,252.0 C212.0,249.3 214.0,243.3 216.0,240.0 C218.0,236.7 223.2,236.7 226.0,232.0 C228.8,227.3 231.0,217.7 233.0,212.0 C235.0,206.3 236.3,201.7 238.0,198.0 C239.7,194.3 239.0,190.7 243.0,190.0Z" fill="#ff00d0" opacity="1.0"/>
<path d="M240.0,198.0 C242.7,196.5 247.3,199.7 250.0,203.0 C252.7,206.3 255.0,212.8 256.0,218.0 C257.0,223.2 257.3,230.0 256.0,234.0 C254.7,238.0 252.0,240.5 248.0,242.0 C244.0,243.5 236.3,243.3 232.0,243.0 C227.7,242.7 222.7,242.5 222.0,240.0 C221.3,237.5 226.0,232.7 228.0,228.0 C230.0,223.3 232.0,217.0 234.0,212.0 C236.0,207.0 237.3,199.5 240.0,198.0Z" fill="#ff0010" opacity="1.0"/>
<ellipse cx="347.9" cy="98.2" rx="19" ry="11" fill="#ff00c8" opacity="1.0"/>
<ellipse cx="347.9" cy="98.4" rx="4.2" ry="3.6" fill="#ff0020" opacity="1"/>
<ellipse cx="373.9" cy="83.4" rx="7" ry="5.5" fill="#ff00e0" opacity="0.9"/>
<path d="M212.0,352.0 C213.3,349.0 219.0,351.3 222.0,352.0 C225.0,352.7 227.7,354.0 230.0,356.0 C232.3,358.0 234.2,361.3 236.0,364.0 C237.8,366.7 239.3,369.2 241.0,372.0 C242.7,374.8 244.7,377.5 246.0,381.0 C247.3,384.5 248.0,389.0 249.0,393.0 C250.0,397.0 251.2,401.5 252.0,405.0 C252.8,408.5 256.0,413.2 254.0,414.0 C252.0,414.8 244.3,412.3 240.0,410.0 C235.7,407.7 231.3,404.2 228.0,400.0 C224.7,395.8 222.3,390.0 220.0,385.0 C217.7,380.0 215.3,375.5 214.0,370.0 C212.7,364.5 210.7,355.0 212.0,352.0Z" fill="#ff00c8" opacity="1.0"/>
<ellipse cx="227.0" cy="372.5" rx="4.5" ry="3.5" fill="#ff0020" opacity="1"/>
<ellipse cx="240.4" cy="394.6" rx="5" ry="6" fill="#ff0010" opacity="1"/>
<ellipse cx="410.0" cy="143.0" rx="5" ry="10" fill="#ff00d8" opacity="1.0"/>
<path d="M305.0,109.0 C306.9,107.4 310.2,106.5 313.6,107.5 C317.0,108.5 321.9,113.1 325.6,114.9 C329.3,116.8 332.8,118.7 335.9,118.6 C339.0,118.5 341.6,115.8 344.0,114.5 C346.4,113.2 347.5,112.3 350.0,110.7 C352.5,109.1 355.9,106.8 359.0,105.0 C362.1,103.2 365.4,101.3 368.6,99.6 C371.8,97.9 374.9,96.4 378.0,95.0 C381.1,93.6 383.2,92.6 387.1,91.2 C391.0,89.8 397.2,87.7 401.1,86.6 C405.0,85.5 406.4,85.3 410.4,84.7 C414.4,84.1 420.6,80.8 425.0,83.0 C429.4,85.2 436.8,94.2 437.0,98.0 C437.2,101.8 429.7,104.0 426.0,106.0 C422.3,108.0 417.3,108.0 415.0,110.0 C412.7,112.0 412.3,115.2 412.0,118.0 C411.7,120.8 413.8,124.5 413.0,127.0 C412.2,129.5 408.4,130.3 407.0,133.0 C405.6,135.7 404.6,139.7 404.5,143.0 C404.4,146.3 404.9,150.3 406.5,153.0 C408.1,155.7 411.8,157.2 414.0,159.0 C416.2,160.8 420.7,160.5 420.0,164.0 C419.3,167.5 413.0,175.3 410.0,180.0 C407.0,184.7 404.5,188.2 402.0,192.0 C399.5,195.8 396.8,198.8 395.0,203.0 C393.2,207.2 392.5,213.3 391.0,217.0 C389.5,220.7 387.2,221.2 386.0,225.0 C384.8,228.8 384.8,235.0 384.0,240.0 C383.2,245.0 382.0,250.0 381.0,255.0 C380.0,260.0 378.8,265.2 378.0,270.0 C377.2,274.8 377.0,279.0 376.0,284.0 C375.0,289.0 373.5,295.5 372.0,300.0 C370.5,304.5 368.3,307.7 367.0,311.0 C365.7,314.3 364.5,317.3 364.0,320.0 C363.5,322.7 365.0,324.7 364.0,327.0 C363.0,329.3 359.8,331.5 358.0,334.0 C356.2,336.5 355.0,339.0 353.0,342.0 C351.0,345.0 348.3,348.8 346.0,352.0 C343.7,355.2 340.7,358.2 339.0,361.0 C337.3,363.8 338.0,366.0 336.0,369.0 C334.0,372.0 329.7,376.0 327.0,379.0 C324.3,382.0 322.5,384.0 320.0,387.0 C317.5,390.0 314.2,393.5 312.0,397.0 C309.8,400.5 308.5,404.2 307.0,408.0 C305.5,411.8 303.8,416.0 303.0,420.0 C302.2,424.0 302.2,427.5 302.0,432.0 C301.8,436.5 302.3,442.2 302.0,447.0 C301.7,451.8 300.5,457.2 300.0,461.0 C299.5,464.8 299.7,467.3 299.0,470.0 C298.3,472.7 297.8,476.7 296.0,477.0 C294.2,477.3 290.3,473.2 288.0,472.0 C285.7,470.8 284.0,470.0 282.0,470.0 C280.0,470.0 278.0,473.3 276.0,472.0 C274.0,470.7 271.0,466.2 270.0,462.0 C269.0,457.8 270.3,451.0 270.0,447.0 C269.7,443.0 268.8,440.8 268.0,438.0 C267.2,435.2 266.3,432.8 265.0,430.0 C263.7,427.2 261.5,423.7 260.0,421.0 C258.5,418.3 257.0,415.9 256.0,414.0 C255.0,412.1 254.6,413.2 253.8,409.6 C253.0,406.0 252.6,397.4 251.4,392.2 C250.2,387.0 248.7,382.2 246.8,378.3 C244.9,374.4 241.9,372.1 239.8,369.0 C237.7,365.9 235.9,362.9 234.0,360.0 C232.1,357.1 230.4,354.6 228.2,351.6 C226.0,348.6 222.9,344.4 221.0,342.0 C219.1,339.6 216.9,338.5 216.6,337.0 C216.3,335.5 218.3,334.5 219.0,333.0 C219.7,331.5 219.3,330.4 221.0,328.0 C222.7,325.6 227.6,323.0 229.3,318.9 C231.0,314.8 231.6,308.4 231.0,303.6 C230.4,298.8 226.8,294.2 225.9,290.0 C225.0,285.8 225.2,282.1 225.8,278.5 C226.4,274.9 226.6,271.1 229.2,268.3 C231.8,265.5 236.3,264.1 241.1,261.5 C245.9,258.9 253.6,255.9 258.1,253.0 C262.6,250.1 266.5,248.7 268.0,244.0 C269.5,239.3 267.3,231.2 267.0,225.0 C266.7,218.8 266.4,212.3 266.0,207.0 C265.6,201.7 265.3,196.5 264.5,193.0 C263.7,189.5 262.4,187.7 261.0,186.0 C259.6,184.3 256.5,184.7 256.0,183.0 C255.5,181.3 256.6,178.6 258.0,176.0 C259.4,173.4 262.6,170.3 264.5,167.5 C266.4,164.7 267.8,161.8 269.5,159.0 C271.2,156.2 272.5,153.4 274.5,151.0 C276.5,148.6 279.2,146.2 281.5,144.5 C283.8,142.8 286.2,142.8 288.5,141.0 C290.8,139.2 293.8,136.7 295.5,134.0 C297.2,131.3 297.9,127.8 299.0,125.0 C300.1,122.2 301.0,119.7 302.0,117.0 C303.0,114.3 303.1,110.6 305.0,109.0Z" fill="#0a00ff" stroke="#5500ff" stroke-width="7" paint-order="stroke"/>
<path d="M315.0,131.5 C318.5,129.4 324.5,127.4 331.3,125.0 C338.1,122.6 349.4,119.6 355.6,116.9 C361.8,114.2 364.5,111.2 368.6,108.8 C372.7,106.4 376.2,104.5 380.0,102.3 C383.8,100.1 387.6,97.8 391.4,95.8 C395.2,93.8 399.3,91.2 402.8,90.0 C406.3,88.8 409.5,88.2 412.5,88.4 C415.5,88.6 418.1,89.3 420.7,90.9 C423.3,92.5 427.4,96.0 428.0,98.0 C428.6,100.0 426.2,101.7 424.0,103.0 C421.8,104.3 417.5,104.5 415.0,106.0 C412.5,107.5 410.5,109.4 409.0,112.0 C407.5,114.6 407.6,118.8 406.0,121.8 C404.4,124.8 401.1,126.7 399.5,129.9 C397.9,133.2 396.6,137.8 396.3,141.3 C396.1,144.8 397.1,148.2 398.0,151.0 C398.9,153.8 400.6,155.3 401.5,158.0 C402.4,160.7 402.3,163.2 403.2,167.0 C404.1,170.8 406.5,176.8 406.6,180.6 C406.7,184.4 405.8,186.8 404.0,190.0 C402.2,193.2 398.0,195.8 396.0,200.0 C394.0,204.2 393.7,210.8 392.0,215.0 C390.3,219.2 387.3,220.8 386.0,225.0 C384.7,229.2 384.8,235.0 384.0,240.0 C383.2,245.0 382.0,250.0 381.0,255.0 C380.0,260.0 378.8,265.2 378.0,270.0 C377.2,274.8 377.0,279.0 376.0,284.0 C375.0,289.0 373.5,295.5 372.0,300.0 C370.5,304.5 368.3,307.7 367.0,311.0 C365.7,314.3 364.5,317.3 364.0,320.0 C363.5,322.7 365.0,324.7 364.0,327.0 C363.0,329.3 359.8,331.5 358.0,334.0 C356.2,336.5 355.0,339.0 353.0,342.0 C351.0,345.0 348.3,348.8 346.0,352.0 C343.7,355.2 340.7,358.2 339.0,361.0 C337.3,363.8 338.0,366.0 336.0,369.0 C334.0,372.0 329.7,376.0 327.0,379.0 C324.3,382.0 322.5,384.0 320.0,387.0 C317.5,390.0 314.2,393.5 312.0,397.0 C309.8,400.5 308.5,404.2 307.0,408.0 C305.5,411.8 303.8,416.0 303.0,420.0 C302.2,424.0 302.2,427.5 302.0,432.0 C301.8,436.5 302.3,442.2 302.0,447.0 C301.7,451.8 300.5,457.2 300.0,461.0 C299.5,464.8 299.7,467.3 299.0,470.0 C298.3,472.7 297.8,476.7 296.0,477.0 C294.2,477.3 290.3,473.2 288.0,472.0 C285.7,470.8 284.0,470.0 282.0,470.0 C280.0,470.0 278.0,473.3 276.0,472.0 C274.0,470.7 271.0,466.2 270.0,462.0 C269.0,457.8 270.3,451.0 270.0,447.0 C269.7,443.0 268.8,440.8 268.0,438.0 C267.2,435.2 266.3,432.8 265.0,430.0 C263.7,427.2 260.8,424.7 260.0,421.0 C259.2,417.3 260.4,411.5 260.5,408.0 C260.6,404.5 260.8,403.2 260.7,400.0 C260.6,396.8 260.5,392.4 260.1,388.8 C259.7,385.2 259.4,381.6 258.4,378.3 C257.3,375.0 255.9,372.1 253.8,369.0 C251.7,365.9 248.1,362.6 245.6,359.7 C243.1,356.8 240.4,354.9 238.7,351.6 C237.0,348.3 235.6,343.4 235.2,340.0 C234.8,336.6 235.1,334.4 236.1,330.9 C237.1,327.4 239.5,323.4 241.2,318.9 C242.9,314.3 245.2,308.1 246.3,303.6 C247.4,299.2 246.8,296.4 247.9,292.2 C249.0,288.0 250.7,282.8 253.0,278.5 C255.3,274.2 258.4,270.6 261.5,266.6 C264.6,262.6 268.6,259.0 271.7,254.7 C274.8,250.4 278.3,246.1 280.0,241.0 C281.7,235.9 281.8,230.8 282.0,224.0 C282.2,217.2 281.4,206.4 281.0,200.0 C280.6,193.6 279.8,189.6 279.5,185.4 C279.2,181.2 279.2,178.5 279.5,175.1 C279.8,171.7 279.8,168.0 281.2,164.9 C282.6,161.8 285.2,159.5 288.0,156.4 C290.8,153.3 294.5,149.3 298.2,146.2 C301.9,143.1 307.3,140.1 310.1,137.7 C312.9,135.2 311.5,133.6 315.0,131.5Z" fill="#00f008" stroke="#0070b0" stroke-width="3.5" paint-order="stroke"/>
<path d="M315.2,141.1 C317.5,138.8 320.5,136.7 323.8,134.3 C327.1,131.9 332.4,128.4 335.0,126.6 C337.6,124.8 336.8,124.8 339.4,123.4 C342.0,122.1 347.3,120.4 350.8,118.5 C354.3,116.6 357.5,113.6 360.5,112.0 C363.5,110.4 365.4,110.1 368.6,108.8 C371.9,107.5 376.5,105.3 380.0,103.9 C383.5,102.5 386.3,102.2 389.8,100.6 C393.3,99.0 397.7,95.4 401.2,94.1 C404.7,92.8 408.5,92.8 410.9,92.5 C413.3,92.2 414.4,91.2 415.8,92.5 C417.2,93.8 419.6,97.9 419.0,100.6 C418.4,103.3 415.2,106.3 412.5,108.8 C409.8,111.2 406.1,113.1 402.8,115.3 C399.6,117.5 395.4,119.6 393.0,121.8 C390.6,124.0 389.1,125.6 388.1,128.3 C387.2,131.0 386.8,134.7 387.3,138.0 C387.8,141.3 389.6,144.3 391.0,148.0 C392.4,151.7 395.0,154.8 395.6,160.2 C396.2,165.6 395.4,174.9 394.7,180.6 C394.0,186.3 392.7,190.3 391.3,194.3 C389.9,198.3 387.9,200.5 386.2,204.5 C384.5,208.5 381.5,213.8 381.1,218.1 C380.7,222.3 383.9,225.5 384.0,230.0 C384.1,234.5 382.8,239.7 382.0,245.0 C381.2,250.3 379.8,256.8 379.0,262.0 C378.2,267.2 377.8,271.3 377.0,276.0 C376.2,280.7 375.2,285.7 374.0,290.0 C372.8,294.3 371.5,298.2 370.0,302.0 C368.5,305.8 366.2,309.7 365.0,313.0 C363.8,316.3 363.7,319.2 362.5,322.0 C361.3,324.8 359.9,327.0 358.0,330.0 C356.1,333.0 353.8,336.6 351.0,340.0 C348.2,343.4 346.1,347.8 341.0,350.4 C335.9,353.0 325.0,353.8 320.4,355.5 C315.8,357.2 315.5,358.5 313.6,360.6 C311.7,362.7 309.9,364.8 309.0,368.0 C308.1,371.2 308.3,375.8 308.3,380.0 C308.3,384.2 309.4,388.7 309.0,393.0 C308.6,397.3 307.2,401.5 306.0,406.0 C304.8,410.5 302.8,415.7 302.0,420.0 C301.2,424.3 301.7,427.7 301.5,432.0 C301.3,436.3 301.6,441.7 301.0,446.0 C300.4,450.3 299.5,456.2 298.0,458.0 C296.5,459.8 293.4,457.8 292.0,457.0 C290.6,456.2 290.8,455.6 289.9,453.3 C289.0,451.0 288.2,446.5 286.5,443.1 C284.8,439.7 281.7,435.7 279.7,432.9 C277.7,430.1 276.9,428.7 274.6,426.1 C272.3,423.6 267.8,421.1 266.1,417.6 C264.4,414.1 264.6,409.3 264.5,405.0 C264.4,400.7 265.4,396.1 265.5,392.0 C265.6,387.9 265.9,383.9 265.0,380.2 C264.1,376.5 262.4,372.8 259.9,370.0 C257.3,367.2 252.2,365.8 249.7,363.2 C247.1,360.6 245.7,358.4 244.6,354.7 C243.5,351.0 242.9,345.4 242.9,341.1 C242.9,336.9 243.5,332.9 244.6,329.2 C245.7,325.5 247.4,322.6 249.7,318.9 C252.0,315.2 255.5,310.8 258.2,307.0 C260.9,303.2 264.3,299.6 266.0,296.0 C267.7,292.4 267.6,288.9 268.3,285.4 C269.0,281.9 268.9,278.2 270.0,275.1 C271.1,272.0 272.5,270.0 275.1,266.6 C277.7,263.2 282.5,259.0 285.4,254.7 C288.2,250.4 290.9,247.5 292.2,241.0 C293.5,234.5 293.0,223.2 293.0,215.5 C293.0,207.8 292.3,200.3 292.2,195.0 C292.1,189.7 292.1,187.5 292.3,183.6 C292.5,179.7 292.4,175.4 293.1,171.7 C293.8,168.0 294.8,164.6 296.5,161.5 C298.2,158.4 301.0,155.3 303.3,153.0 C305.6,150.7 308.1,149.9 310.1,147.9 C312.1,145.9 312.9,143.4 315.2,141.1Z" fill="#e8ff00" stroke="#a8ff00" stroke-width="3" paint-order="stroke"/>
<ellipse cx="366.0" cy="270.0" rx="9" ry="45" fill="#d0f000" opacity="0.45"/>
<ellipse cx="300.0" cy="410.0" rx="10" ry="28" fill="#d0f000" opacity="0.4"/>
<ellipse cx="280.0" cy="360.0" rx="10" ry="25" fill="#d8f800" opacity="0.35"/>
<ellipse cx="330.0" cy="240.0" rx="30" ry="40" fill="#faff10" opacity="0.6"/>
<ellipse cx="330.0" cy="320.0" rx="25" ry="40" fill="#f8ff10" opacity="0.5"/>
<ellipse cx="330.0" cy="170.0" rx="22" ry="25" fill="#faff10" opacity="0.5"/>
<ellipse cx="405.0" cy="102.0" rx="9" ry="6" fill="#fcff70" opacity="0.8"/>
<ellipse cx="372.0" cy="118.0" rx="10" ry="6" fill="#faff40" opacity="0.5"/>
</g>
<path d="M292.1,185.4 C294.6,184.8 301.6,183.1 307.0,181.7 C312.4,180.3 318.5,178.5 324.3,176.8 C330.1,175.2 337.5,172.8 341.6,171.8 C345.7,170.8 345.7,170.2 349.0,170.6 C352.3,171.0 357.4,172.9 361.5,174.3 C365.6,175.8 369.3,178.5 373.8,179.3 C378.3,180.1 386.2,179.3 388.7,179.3" fill="none" stroke="#a09868" stroke-width="1.1" stroke-dasharray="4 2.5" opacity="0.9"/>
<path d="M293.3,209.0 C296.4,207.3 305.9,201.6 311.9,199.1 C317.9,196.6 323.5,194.9 329.3,194.1 C335.1,193.3 342.5,194.9 346.6,194.1 C350.7,193.3 352.8,190.0 354.0,189.2" fill="none" stroke="#a09868" stroke-width="1.1" stroke-dasharray="4 2.5" opacity="0.9"/>
<path d="M349.0,170.6 C350.2,167.9 354.4,158.8 356.5,154.5 C358.6,150.2 359.4,147.1 361.5,144.6 C363.6,142.1 366.0,141.2 368.9,139.6 C371.8,137.9 375.5,137.6 378.8,134.7 C382.1,131.8 387.1,124.4 388.7,122.3" fill="none" stroke="#a09868" stroke-width="1.1" stroke-dasharray="4 2.5" opacity="0.9"/>
<path d="M354.0,189.2 C353.2,191.7 350.6,199.1 349.0,204.0 C347.4,208.9 345.3,213.5 344.1,218.9 C342.9,224.3 342.5,231.0 341.6,236.2 C340.8,241.4 339.4,245.2 339.0,250.0 C338.6,254.8 340.2,260.8 339.0,264.9 C337.8,269.0 334.0,272.3 331.5,274.8 C329.0,277.3 327.0,278.1 324.1,279.7 C321.2,281.3 317.5,284.3 314.2,284.7 C310.9,285.1 308.0,282.6 304.3,282.2 C300.6,281.8 294.4,284.3 291.9,282.2 C289.4,280.1 291.9,272.7 289.4,269.8 C286.9,266.9 280.3,265.3 277.0,264.9 C273.7,264.5 270.8,266.9 269.6,267.3" fill="none" stroke="#a09868" stroke-width="1.1" stroke-dasharray="4 2.5" opacity="0.9"/>
<path d="M316.9,147.0 C317.3,149.1 318.6,156.9 319.4,159.4 C320.2,161.9 319.3,161.5 321.8,161.9 C324.3,162.3 330.9,161.1 334.2,161.9 C337.5,162.7 339.1,165.5 341.6,166.9 C344.1,168.3 347.8,170.0 349.0,170.6" fill="none" stroke="#a09868" stroke-width="1.1" stroke-dasharray="4 2.5" opacity="0.9"/>
<path d="M314.2,284.7 C313.8,286.4 311.7,291.3 311.7,294.6 C311.7,297.9 312.1,301.6 314.2,304.5 C316.3,307.4 320.4,309.0 324.1,311.9 C327.8,314.8 332.8,319.3 336.5,321.8 C340.2,324.3 343.5,327.2 346.4,326.8 C349.3,326.4 351.7,323.9 353.8,319.4 C355.9,314.8 356.7,304.5 358.8,299.5 C360.9,294.5 365.0,291.2 366.2,289.6" fill="none" stroke="#a09868" stroke-width="1.1" stroke-dasharray="4 2.5" opacity="0.9"/>
<path d="M311.7,294.6 C309.6,295.4 303.4,297.9 299.3,299.5 C295.2,301.1 291.1,303.2 287.0,304.5 C282.9,305.8 279.6,305.4 274.6,307.0 C269.6,308.6 260.1,313.2 257.2,314.4" fill="none" stroke="#a09868" stroke-width="1.1" stroke-dasharray="4 2.5" opacity="0.9"/>
<path d="M304.3,309.4 C303.5,311.5 301.0,317.2 299.3,321.8 C297.6,326.4 295.6,332.1 294.4,336.7 C293.2,341.2 291.9,345.4 291.9,349.1 C291.9,352.8 293.6,355.7 294.4,359.0 C295.2,362.3 297.3,364.8 296.9,368.9 C296.5,373.0 293.5,378.8 291.9,383.7 C290.2,388.6 288.2,394.2 287.0,398.6 C285.8,403.0 284.7,405.6 284.5,410.0 C284.3,414.4 285.8,422.5 286.0,425.0" fill="none" stroke="#a09868" stroke-width="1.1" stroke-dasharray="4 2.5" opacity="0.9"/>
<path d="M249.8,361.5 C252.7,360.7 262.2,357.3 267.2,356.5 C272.1,355.7 275.4,356.1 279.5,356.5 C283.6,356.9 289.8,358.6 291.9,359.0" fill="none" stroke="#a09868" stroke-width="1.1" stroke-dasharray="4 2.5" opacity="0.9"/>
<path d="M346.6,127.2 C347.4,129.3 350.3,135.9 351.5,139.6 C352.7,143.3 353.6,147.8 354.0,149.5" fill="none" stroke="#a09868" stroke-width="1.1" stroke-dasharray="4 2.5" opacity="0.9"/>
<path d="M254.7,200.2 C256.1,202.2 260.9,208.1 263.2,212.1 C265.5,216.1 267.2,218.6 268.3,224.0 C269.4,229.4 270.9,239.4 270.0,244.5 C269.1,249.6 264.3,253.0 263.2,254.7" fill="none" stroke="#f0d8ff" stroke-width="0.9" stroke-dasharray="3.5 2.5" opacity="0.7"/>
<path d="M236.0,241.0 C238.3,241.6 243.9,243.6 249.6,244.5 C255.3,245.4 266.6,245.9 270.0,246.2" fill="none" stroke="#f0d8ff" stroke-width="0.9" stroke-dasharray="3.5 2.5" opacity="0.7"/>
<path d="M207.0,266.6 C209.8,265.8 218.3,263.2 224.0,261.5 C229.7,259.8 235.3,257.5 241.0,256.4 C246.7,255.3 255.3,255.0 258.1,254.7" fill="none" stroke="#f0d8ff" stroke-width="0.9" stroke-dasharray="3.5 2.5" opacity="0.7"/>
<path d="M212.0,300.0 C214.2,299.3 220.7,297.7 225.0,296.0 C229.3,294.3 234.5,292.3 238.0,290.0 C241.5,287.7 244.7,283.3 246.0,282.0" fill="none" stroke="#f0d8ff" stroke-width="0.9" stroke-dasharray="3.5 2.5" opacity="0.7"/>
<path d="M222.0,353.0 C223.7,352.3 228.3,349.5 232.0,349.0 C235.7,348.5 242.0,349.8 244.0,350.0" fill="none" stroke="#f0d8ff" stroke-width="0.9" stroke-dasharray="3.5 2.5" opacity="0.7"/>
<path d="M300.0,104.0 C301.7,105.3 307.0,109.7 310.0,112.0 C313.0,114.3 316.7,117.0 318.0,118.0" fill="none" stroke="#f0d8ff" stroke-width="0.9" stroke-dasharray="3.5 2.5" opacity="0.7"/>
<path d="M365.0,80.0 C364.5,81.7 361.5,86.7 362.0,90.0 C362.5,93.3 366.3,97.7 368.0,100.0 C369.7,102.3 371.3,103.3 372.0,104.0" fill="none" stroke="#f0d8ff" stroke-width="0.9" stroke-dasharray="3.5 2.5" opacity="0.7"/>
<circle cx="301.8" cy="307.0" r="1.3" fill="#222"/>
<ellipse cx="347.9" cy="98.4" rx="4.5" ry="3.8" fill="none" stroke="#111" stroke-width="1.2"/>
<ellipse cx="357.5" cy="142.0" rx="3.2" ry="3.8" fill="none" stroke="#111" stroke-width="1.2"/>
<path d="M315.2,141.1 C317.5,138.8 320.5,136.7 323.8,134.3 C327.1,131.9 332.4,128.4 335.0,126.6 C337.6,124.8 336.8,124.8 339.4,123.4 C342.0,122.1 347.3,120.4 350.8,118.5 C354.3,116.6 357.5,113.6 360.5,112.0 C363.5,110.4 365.4,110.1 368.6,108.8 C371.9,107.5 376.5,105.3 380.0,103.9 C383.5,102.5 386.3,102.2 389.8,100.6 C393.3,99.0 397.7,95.4 401.2,94.1 C404.7,92.8 408.5,92.8 410.9,92.5 C413.3,92.2 414.4,91.2 415.8,92.5 C417.2,93.8 419.6,97.9 419.0,100.6 C418.4,103.3 415.2,106.3 412.5,108.8 C409.8,111.2 406.1,113.1 402.8,115.3 C399.6,117.5 395.4,119.6 393.0,121.8 C390.6,124.0 389.1,125.6 388.1,128.3 C387.2,131.0 386.8,134.7 387.3,138.0 C387.8,141.3 389.6,144.3 391.0,148.0 C392.4,151.7 395.0,154.8 395.6,160.2 C396.2,165.6 395.4,174.9 394.7,180.6 C394.0,186.3 392.7,190.3 391.3,194.3 C389.9,198.3 387.9,200.5 386.2,204.5 C384.5,208.5 381.5,213.8 381.1,218.1 C380.7,222.3 383.9,225.5 384.0,230.0 C384.1,234.5 382.8,239.7 382.0,245.0 C381.2,250.3 379.8,256.8 379.0,262.0 C378.2,267.2 377.8,271.3 377.0,276.0 C376.2,280.7 375.2,285.7 374.0,290.0 C372.8,294.3 371.5,298.2 370.0,302.0 C368.5,305.8 366.2,309.7 365.0,313.0 C363.8,316.3 363.7,319.2 362.5,322.0 C361.3,324.8 359.9,327.0 358.0,330.0 C356.1,333.0 353.8,336.6 351.0,340.0 C348.2,343.4 346.1,347.8 341.0,350.4 C335.9,353.0 325.0,353.8 320.4,355.5 C315.8,357.2 315.5,358.5 313.6,360.6 C311.7,362.7 309.9,364.8 309.0,368.0 C308.1,371.2 308.3,375.8 308.3,380.0 C308.3,384.2 309.4,388.7 309.0,393.0 C308.6,397.3 307.2,401.5 306.0,406.0 C304.8,410.5 302.8,415.7 302.0,420.0 C301.2,424.3 301.7,427.7 301.5,432.0 C301.3,436.3 301.6,441.7 301.0,446.0 C300.4,450.3 299.5,456.2 298.0,458.0 C296.5,459.8 293.4,457.8 292.0,457.0 C290.6,456.2 290.8,455.6 289.9,453.3 C289.0,451.0 288.2,446.5 286.5,443.1 C284.8,439.7 281.7,435.7 279.7,432.9 C277.7,430.1 276.9,428.7 274.6,426.1 C272.3,423.6 267.8,421.1 266.1,417.6 C264.4,414.1 264.6,409.3 264.5,405.0 C264.4,400.7 265.4,396.1 265.5,392.0 C265.6,387.9 265.9,383.9 265.0,380.2 C264.1,376.5 262.4,372.8 259.9,370.0 C257.3,367.2 252.2,365.8 249.7,363.2 C247.1,360.6 245.7,358.4 244.6,354.7 C243.5,351.0 242.9,345.4 242.9,341.1 C242.9,336.9 243.5,332.9 244.6,329.2 C245.7,325.5 247.4,322.6 249.7,318.9 C252.0,315.2 255.5,310.8 258.2,307.0 C260.9,303.2 264.3,299.6 266.0,296.0 C267.7,292.4 267.6,288.9 268.3,285.4 C269.0,281.9 268.9,278.2 270.0,275.1 C271.1,272.0 272.5,270.0 275.1,266.6 C277.7,263.2 282.5,259.0 285.4,254.7 C288.2,250.4 290.9,247.5 292.2,241.0 C293.5,234.5 293.0,223.2 293.0,215.5 C293.0,207.8 292.3,200.3 292.2,195.0 C292.1,189.7 292.1,187.5 292.3,183.6 C292.5,179.7 292.4,175.4 293.1,171.7 C293.8,168.0 294.8,164.6 296.5,161.5 C298.2,158.4 301.0,155.3 303.3,153.0 C305.6,150.7 308.1,149.9 310.1,147.9 C312.1,145.9 312.9,143.4 315.2,141.1Z" fill="none" stroke="#111" stroke-width="1.3"/>
<path d="M315.0,131.5 C318.5,129.4 324.5,127.4 331.3,125.0 C338.1,122.6 349.4,119.6 355.6,116.9 C361.8,114.2 364.5,111.2 368.6,108.8 C372.7,106.4 376.2,104.5 380.0,102.3 C383.8,100.1 387.6,97.8 391.4,95.8 C395.2,93.8 399.3,91.2 402.8,90.0 C406.3,88.8 409.5,88.2 412.5,88.4 C415.5,88.6 418.1,89.3 420.7,90.9 C423.3,92.5 427.4,96.0 428.0,98.0 C428.6,100.0 426.2,101.7 424.0,103.0 C421.8,104.3 417.5,104.5 415.0,106.0 C412.5,107.5 410.5,109.4 409.0,112.0 C407.5,114.6 407.6,118.8 406.0,121.8 C404.4,124.8 401.1,126.7 399.5,129.9 C397.9,133.2 396.6,137.8 396.3,141.3 C396.1,144.8 397.1,148.2 398.0,151.0 C398.9,153.8 400.6,155.3 401.5,158.0 C402.4,160.7 402.3,163.2 403.2,167.0 C404.1,170.8 406.5,176.8 406.6,180.6 C406.7,184.4 405.8,186.8 404.0,190.0 C402.2,193.2 398.0,195.8 396.0,200.0 C394.0,204.2 393.7,210.8 392.0,215.0 C390.3,219.2 387.3,220.8 386.0,225.0 C384.7,229.2 384.8,235.0 384.0,240.0 C383.2,245.0 382.0,250.0 381.0,255.0 C380.0,260.0 378.8,265.2 378.0,270.0 C377.2,274.8 377.0,279.0 376.0,284.0 C375.0,289.0 373.5,295.5 372.0,300.0 C370.5,304.5 368.3,307.7 367.0,311.0 C365.7,314.3 364.5,317.3 364.0,320.0 C363.5,322.7 365.0,324.7 364.0,327.0 C363.0,329.3 359.8,331.5 358.0,334.0 C356.2,336.5 355.0,339.0 353.0,342.0 C351.0,345.0 348.3,348.8 346.0,352.0 C343.7,355.2 340.7,358.2 339.0,361.0 C337.3,363.8 338.0,366.0 336.0,369.0 C334.0,372.0 329.7,376.0 327.0,379.0 C324.3,382.0 322.5,384.0 320.0,387.0 C317.5,390.0 314.2,393.5 312.0,397.0 C309.8,400.5 308.5,404.2 307.0,408.0 C305.5,411.8 303.8,416.0 303.0,420.0 C302.2,424.0 302.2,427.5 302.0,432.0 C301.8,436.5 302.3,442.2 302.0,447.0 C301.7,451.8 300.5,457.2 300.0,461.0 C299.5,464.8 299.7,467.3 299.0,470.0 C298.3,472.7 297.8,476.7 296.0,477.0 C294.2,477.3 290.3,473.2 288.0,472.0 C285.7,470.8 284.0,470.0 282.0,470.0 C280.0,470.0 278.0,473.3 276.0,472.0 C274.0,470.7 271.0,466.2 270.0,462.0 C269.0,457.8 270.3,451.0 270.0,447.0 C269.7,443.0 268.8,440.8 268.0,438.0 C267.2,435.2 266.3,432.8 265.0,430.0 C263.7,427.2 260.8,424.7 260.0,421.0 C259.2,417.3 260.4,411.5 260.5,408.0 C260.6,404.5 260.8,403.2 260.7,400.0 C260.6,396.8 260.5,392.4 260.1,388.8 C259.7,385.2 259.4,381.6 258.4,378.3 C257.3,375.0 255.9,372.1 253.8,369.0 C251.7,365.9 248.1,362.6 245.6,359.7 C243.1,356.8 240.4,354.9 238.7,351.6 C237.0,348.3 235.6,343.4 235.2,340.0 C234.8,336.6 235.1,334.4 236.1,330.9 C237.1,327.4 239.5,323.4 241.2,318.9 C242.9,314.3 245.2,308.1 246.3,303.6 C247.4,299.2 246.8,296.4 247.9,292.2 C249.0,288.0 250.7,282.8 253.0,278.5 C255.3,274.2 258.4,270.6 261.5,266.6 C264.6,262.6 268.6,259.0 271.7,254.7 C274.8,250.4 278.3,246.1 280.0,241.0 C281.7,235.9 281.8,230.8 282.0,224.0 C282.2,217.2 281.4,206.4 281.0,200.0 C280.6,193.6 279.8,189.6 279.5,185.4 C279.2,181.2 279.2,178.5 279.5,175.1 C279.8,171.7 279.8,168.0 281.2,164.9 C282.6,161.8 285.2,159.5 288.0,156.4 C290.8,153.3 294.5,149.3 298.2,146.2 C301.9,143.1 307.3,140.1 310.1,137.7 C312.9,135.2 311.5,133.6 315.0,131.5Z" fill="none" stroke="#111" stroke-width="1.5"/>
<path d="M305.0,109.0 C306.9,107.4 310.2,106.5 313.6,107.5 C317.0,108.5 321.9,113.1 325.6,114.9 C329.3,116.8 332.8,118.7 335.9,118.6 C339.0,118.5 341.6,115.8 344.0,114.5 C346.4,113.2 347.5,112.3 350.0,110.7 C352.5,109.1 355.9,106.8 359.0,105.0 C362.1,103.2 365.4,101.3 368.6,99.6 C371.8,97.9 374.9,96.4 378.0,95.0 C381.1,93.6 383.2,92.6 387.1,91.2 C391.0,89.8 397.2,87.7 401.1,86.6 C405.0,85.5 406.4,85.3 410.4,84.7 C414.4,84.1 420.6,80.8 425.0,83.0 C429.4,85.2 436.8,94.2 437.0,98.0 C437.2,101.8 429.7,104.0 426.0,106.0 C422.3,108.0 417.3,108.0 415.0,110.0 C412.7,112.0 412.3,115.2 412.0,118.0 C411.7,120.8 413.8,124.5 413.0,127.0 C412.2,129.5 408.4,130.3 407.0,133.0 C405.6,135.7 404.6,139.7 404.5,143.0 C404.4,146.3 404.9,150.3 406.5,153.0 C408.1,155.7 411.8,157.2 414.0,159.0 C416.2,160.8 420.7,160.5 420.0,164.0 C419.3,167.5 413.0,175.3 410.0,180.0 C407.0,184.7 404.5,188.2 402.0,192.0 C399.5,195.8 396.8,198.8 395.0,203.0 C393.2,207.2 392.5,213.3 391.0,217.0 C389.5,220.7 387.2,221.2 386.0,225.0 C384.8,228.8 384.8,235.0 384.0,240.0 C383.2,245.0 382.0,250.0 381.0,255.0 C380.0,260.0 378.8,265.2 378.0,270.0 C377.2,274.8 377.0,279.0 376.0,284.0 C375.0,289.0 373.5,295.5 372.0,300.0 C370.5,304.5 368.3,307.7 367.0,311.0 C365.7,314.3 364.5,317.3 364.0,320.0 C363.5,322.7 365.0,324.7 364.0,327.0 C363.0,329.3 359.8,331.5 358.0,334.0 C356.2,336.5 355.0,339.0 353.0,342.0 C351.0,345.0 348.3,348.8 346.0,352.0 C343.7,355.2 340.7,358.2 339.0,361.0 C337.3,363.8 338.0,366.0 336.0,369.0 C334.0,372.0 329.7,376.0 327.0,379.0 C324.3,382.0 322.5,384.0 320.0,387.0 C317.5,390.0 314.2,393.5 312.0,397.0 C309.8,400.5 308.5,404.2 307.0,408.0 C305.5,411.8 303.8,416.0 303.0,420.0 C302.2,424.0 302.2,427.5 302.0,432.0 C301.8,436.5 302.3,442.2 302.0,447.0 C301.7,451.8 300.5,457.2 300.0,461.0 C299.5,464.8 299.7,467.3 299.0,470.0 C298.3,472.7 297.8,476.7 296.0,477.0 C294.2,477.3 290.3,473.2 288.0,472.0 C285.7,470.8 284.0,470.0 282.0,470.0 C280.0,470.0 278.0,473.3 276.0,472.0 C274.0,470.7 271.0,466.2 270.0,462.0 C269.0,457.8 270.3,451.0 270.0,447.0 C269.7,443.0 268.8,440.8 268.0,438.0 C267.2,435.2 266.3,432.8 265.0,430.0 C263.7,427.2 261.5,423.7 260.0,421.0 C258.5,418.3 257.0,415.9 256.0,414.0 C255.0,412.1 254.6,413.2 253.8,409.6 C253.0,406.0 252.6,397.4 251.4,392.2 C250.2,387.0 248.7,382.2 246.8,378.3 C244.9,374.4 241.9,372.1 239.8,369.0 C237.7,365.9 235.9,362.9 234.0,360.0 C232.1,357.1 230.4,354.6 228.2,351.6 C226.0,348.6 222.9,344.4 221.0,342.0 C219.1,339.6 216.9,338.5 216.6,337.0 C216.3,335.5 218.3,334.5 219.0,333.0 C219.7,331.5 219.3,330.4 221.0,328.0 C222.7,325.6 227.6,323.0 229.3,318.9 C231.0,314.8 231.6,308.4 231.0,303.6 C230.4,298.8 226.8,294.2 225.9,290.0 C225.0,285.8 225.2,282.1 225.8,278.5 C226.4,274.9 226.6,271.1 229.2,268.3 C231.8,265.5 236.3,264.1 241.1,261.5 C245.9,258.9 253.6,255.9 258.1,253.0 C262.6,250.1 266.5,248.7 268.0,244.0 C269.5,239.3 267.3,231.2 267.0,225.0 C266.7,218.8 266.4,212.3 266.0,207.0 C265.6,201.7 265.3,196.5 264.5,193.0 C263.7,189.5 262.4,187.7 261.0,186.0 C259.6,184.3 256.5,184.7 256.0,183.0 C255.5,181.3 256.6,178.6 258.0,176.0 C259.4,173.4 262.6,170.3 264.5,167.5 C266.4,164.7 267.8,161.8 269.5,159.0 C271.2,156.2 272.5,153.4 274.5,151.0 C276.5,148.6 279.2,146.2 281.5,144.5 C283.8,142.8 286.2,142.8 288.5,141.0 C290.8,139.2 293.8,136.7 295.5,134.0 C297.2,131.3 297.9,127.8 299.0,125.0 C300.1,122.2 301.0,119.7 302.0,117.0 C303.0,114.3 303.1,110.6 305.0,109.0Z" fill="none" stroke="#111" stroke-width="0.8"/>
</g>
<path d="M315.0,95.0 C316.3,93.6 318.8,92.8 321.5,91.7 C324.2,90.6 327.8,89.4 331.3,88.4 C334.8,87.5 338.6,86.9 342.6,86.0 C346.7,85.1 352.6,84.1 355.6,82.8 C358.6,81.5 359.1,79.5 360.5,77.9 C361.9,76.3 362.2,74.6 363.8,73.0 C365.4,71.4 367.6,69.3 370.3,68.1 C373.0,66.9 377.3,65.7 380.0,65.7 C382.7,65.7 384.6,66.6 386.5,68.1 C388.4,69.6 389.8,73.0 391.4,74.6 C393.0,76.2 394.4,76.8 396.3,77.9 C398.2,79.0 400.9,79.8 402.8,81.1 C404.7,82.4 405.5,85.2 407.7,86.0 C409.9,86.8 413.4,85.7 415.8,86.0 C418.2,86.3 420.7,86.0 422.3,87.6 C423.9,89.2 423.9,93.9 425.5,95.8 C427.1,97.7 431.4,98.1 432.0,99.0 C432.6,99.9 430.4,100.7 428.8,101.4 C427.2,102.1 424.5,102.1 422.3,103.1 C420.1,104.0 417.7,105.3 415.8,107.1 C413.9,108.8 412.0,111.1 410.9,113.6 C409.8,116.0 409.3,119.1 409.3,121.8 C409.3,124.5 410.1,126.7 410.9,129.9 C411.7,133.2 413.1,137.8 414.2,141.3 C415.3,144.8 417.2,147.6 417.4,151.0 C417.5,154.4 416.6,158.1 415.1,161.9 C413.6,165.7 410.0,170.1 408.3,173.8 C406.6,177.5 406.6,181.0 404.9,184.1 C403.2,187.2 400.3,189.5 398.1,192.6 C395.9,195.7 393.3,198.6 391.8,202.8 C390.3,207.1 390.0,213.8 389.0,218.1 C388.0,222.3 386.9,224.6 385.8,228.3 C384.7,232.0 383.7,236.2 382.3,240.2 C380.9,244.2 378.9,247.5 377.7,252.2 C376.5,256.9 375.8,263.6 374.9,268.6 C374.0,273.6 373.5,277.4 372.4,282.2 C371.3,287.0 369.7,293.3 368.1,297.6 C366.5,301.9 364.4,304.4 363.0,307.8 C361.6,311.2 360.2,315.2 359.6,318.0 C359.0,320.8 360.5,322.8 359.6,324.8 C358.8,326.8 356.2,327.6 354.5,329.9 C352.8,332.2 351.4,335.3 349.4,338.4 C347.4,341.5 344.9,345.5 342.6,348.6 C340.3,351.7 337.6,354.3 335.8,357.2 C334.0,360.1 334.0,363.0 332.0,366.0 C330.0,369.0 326.5,372.1 324.0,375.0 C321.5,377.9 319.8,380.4 317.2,383.5 C314.6,386.6 310.9,390.0 308.6,393.7 C306.3,397.4 305.1,401.3 303.5,405.6 C301.9,409.9 300.2,415.0 299.3,419.3 C298.4,423.6 298.5,426.7 298.4,431.2 C298.2,435.7 298.7,441.7 298.4,446.5 C298.1,451.3 297.3,456.4 296.7,460.1 C296.1,463.8 295.6,466.6 295.0,468.6 C294.4,470.6 294.4,472.3 293.3,472.0 C292.2,471.7 289.9,468.1 288.2,467.0 C286.5,465.9 284.5,465.8 283.1,465.2 C281.7,464.6 280.8,463.2 279.7,463.5 C278.6,463.8 277.1,468.1 276.3,467.0 C275.5,465.9 274.9,460.1 274.6,456.7 C274.3,453.3 274.9,449.9 274.6,446.5 C274.3,443.1 273.8,439.4 272.9,436.3 C272.0,433.2 270.9,430.6 269.5,427.8 C268.1,425.0 266.4,421.9 264.4,419.3 C262.4,416.8 260.2,414.2 257.6,412.5 C255.1,410.8 252.2,410.8 249.1,409.1 C246.0,407.4 242.2,404.7 238.8,402.2 C235.5,399.7 231.7,397.2 229.0,394.0 C226.3,390.8 223.9,386.7 222.5,383.0 C221.1,379.3 222.0,375.3 220.8,371.7 C219.7,368.1 217.0,364.6 215.6,361.5 C214.2,358.4 213.3,356.4 212.2,353.0 C211.1,349.6 210.5,343.9 208.8,341.1 C207.1,338.3 204.3,337.4 202.0,336.0 C199.7,334.6 196.0,334.6 195.2,332.6 C194.3,330.6 196.1,327.5 196.9,324.1 C197.8,320.7 199.2,316.1 200.3,312.1 C201.4,308.1 202.6,304.7 203.7,300.2 C204.8,295.7 206.2,290.6 207.0,285.0 C207.8,279.4 208.1,271.1 208.7,266.6 C209.3,262.1 209.8,260.9 210.4,258.1 C211.0,255.3 211.5,252.2 212.1,249.6 C212.7,247.0 212.7,244.5 213.8,242.8 C214.9,241.1 216.9,240.8 218.9,239.4 C220.9,238.0 223.5,236.9 225.8,234.3 C228.1,231.8 230.9,227.2 232.6,224.1 C234.3,221.0 234.9,218.3 236.0,215.5 C237.1,212.7 238.0,209.8 239.4,207.0 C240.8,204.2 243.1,201.2 244.5,198.5 C245.9,195.8 246.7,193.2 248.0,191.0 C249.3,188.8 250.3,188.1 252.2,185.4 C254.0,182.8 256.8,178.2 259.1,175.1 C261.4,172.0 263.9,169.4 265.9,166.6 C267.9,163.8 269.3,160.9 271.0,158.1 C272.7,155.3 274.1,152.1 276.1,149.6 C278.1,147.1 280.6,144.5 282.9,142.8 C285.2,141.1 287.4,141.1 289.7,139.4 C292.0,137.7 294.8,135.2 296.5,132.6 C298.2,130.0 298.5,126.7 299.9,124.1 C301.3,121.5 303.3,119.8 305.0,117.2 C306.7,114.6 308.7,111.5 310.1,108.7 C311.5,105.9 312.7,102.5 313.5,100.2 C314.3,97.9 313.7,96.4 315.0,95.0Z" fill="none" stroke="#000" stroke-width="1.6"/>
<text x="380.3" y="104.1" class="cl" text-anchor="middle" dominant-baseline="central" transform="rotate(-30 380.3 104.1)">10</text>
<text x="354.8" y="116.2" class="cl" text-anchor="middle" dominant-baseline="central" transform="rotate(-55 354.8 116.2)">30</text>
<text x="329.3" y="116.2" class="cl" text-anchor="middle" dominant-baseline="central" transform="rotate(-35 329.3 116.2)">60</text>
<text x="396.6" y="117.5" class="cl" text-anchor="middle" dominant-baseline="central" transform="rotate(-30 396.6 117.5)">10</text>
<text x="296.8" y="141.5" class="cl" text-anchor="middle" dominant-baseline="central" transform="rotate(-45 296.8 141.5)">60</text>
<text x="303.7" y="157.5" class="cl" text-anchor="middle" dominant-baseline="central" transform="rotate(-55 303.7 157.5)">10</text>
<text x="397.8" y="151.7" class="cl" text-anchor="middle" dominant-baseline="central" transform="rotate(-80 397.8 151.7)">30</text>
<text x="394.3" y="181" class="cl" text-anchor="middle" dominant-baseline="central" transform="rotate(-80 394.3 181)">10</text>
<text x="262.5" y="180.7" class="cl" text-anchor="middle" dominant-baseline="central" transform="rotate(-60 262.5 180.7)">60</text>
<text x="280.5" y="187.7" class="cl" text-anchor="middle" dominant-baseline="central" transform="rotate(-90 280.5 187.7)">30</text>
<text x="238.5" y="216" class="cl" text-anchor="middle" dominant-baseline="central" transform="rotate(-58 238.5 216)">200</text>
<text x="272.4" y="252.7" class="cl" text-anchor="middle" dominant-baseline="central" transform="rotate(-70 272.4 252.7)">30</text>
<text x="235.3" y="266.6" class="cl" text-anchor="middle" dominant-baseline="central" transform="rotate(-30 235.3 266.6)">60</text>
<text x="268.9" y="285.1" class="cl" text-anchor="middle" dominant-baseline="central" transform="rotate(-80 268.9 285.1)">10</text>
<text x="314.6" y="360.2" class="cl" text-anchor="middle" dominant-baseline="central" transform="rotate(-60 314.6 360.2)">10</text>
<text x="278.6" y="435.6" class="cl" text-anchor="middle" dominant-baseline="central" transform="rotate(-65 278.6 435.6)">10</text>
<text x="244.5" y="325" class="cl" text-anchor="middle" dominant-baseline="central" transform="rotate(-40 244.5 325)">60</text>
<line x1="125.5" y1="41.8" x2="499.4" y2="41.8" stroke="#6a6a6a" stroke-width="1.6"/>
<line x1="125.5" y1="519.8" x2="499.4" y2="519.8" stroke="#6a6a6a" stroke-width="1.6"/>
<line x1="131.5" y1="34.8" x2="131.5" y2="526.8" stroke="#444" stroke-width="1.4"/>
<line x1="492.4" y1="34.8" x2="492.4" y2="526.8" stroke="#222" stroke-width="1.3"/>
<line x1="191.7" y1="34.8" x2="191.7" y2="41.8" stroke="#222" stroke-width="1.2"/>
<line x1="191.7" y1="519.8" x2="191.7" y2="526.8" stroke="#222" stroke-width="1.2"/>
<line x1="251.8" y1="34.8" x2="251.8" y2="41.8" stroke="#222" stroke-width="1.2"/>
<line x1="251.8" y1="519.8" x2="251.8" y2="526.8" stroke="#222" stroke-width="1.2"/>
<line x1="311.9" y1="34.8" x2="311.9" y2="41.8" stroke="#222" stroke-width="1.2"/>
<line x1="311.9" y1="519.8" x2="311.9" y2="526.8" stroke="#222" stroke-width="1.2"/>
<line x1="372.1" y1="34.8" x2="372.1" y2="41.8" stroke="#222" stroke-width="1.2"/>
<line x1="372.1" y1="519.8" x2="372.1" y2="526.8" stroke="#222" stroke-width="1.2"/>
<line x1="432.2" y1="34.8" x2="432.2" y2="41.8" stroke="#222" stroke-width="1.2"/>
<line x1="432.2" y1="519.8" x2="432.2" y2="526.8" stroke="#222" stroke-width="1.2"/>
<line x1="125.5" y1="101.5" x2="131.5" y2="101.5" stroke="#444" stroke-width="1.4"/>
<line x1="492.4" y1="101.5" x2="499.4" y2="101.5" stroke="#444" stroke-width="1.4"/>
<line x1="125.5" y1="161.3" x2="131.5" y2="161.3" stroke="#444" stroke-width="1.4"/>
<line x1="492.4" y1="161.3" x2="499.4" y2="161.3" stroke="#444" stroke-width="1.4"/>
<line x1="125.5" y1="221.0" x2="131.5" y2="221.0" stroke="#444" stroke-width="1.4"/>
<line x1="492.4" y1="221.0" x2="499.4" y2="221.0" stroke="#444" stroke-width="1.4"/>
<line x1="125.5" y1="280.8" x2="131.5" y2="280.8" stroke="#444" stroke-width="1.4"/>
<line x1="492.4" y1="280.8" x2="499.4" y2="280.8" stroke="#444" stroke-width="1.4"/>
<line x1="125.5" y1="340.5" x2="131.5" y2="340.5" stroke="#444" stroke-width="1.4"/>
<line x1="492.4" y1="340.5" x2="499.4" y2="340.5" stroke="#444" stroke-width="1.4"/>
<line x1="125.5" y1="400.3" x2="131.5" y2="400.3" stroke="#444" stroke-width="1.4"/>
<line x1="492.4" y1="400.3" x2="499.4" y2="400.3" stroke="#444" stroke-width="1.4"/>
<line x1="125.5" y1="460.0" x2="131.5" y2="460.0" stroke="#444" stroke-width="1.4"/>
<line x1="492.4" y1="460.0" x2="499.4" y2="460.0" stroke="#444" stroke-width="1.4"/>
<text x="124.0" y="46.8" class="ax" text-anchor="end" transform="translate(124.0 0) scale(0.7 1) translate(-124.0 0)">25.5</text>
<circle cx="126.0" cy="35.2" r="1.25" fill="none" stroke="#333" stroke-width="1.45"/>
<text x="124.0" y="106.5" class="ax" text-anchor="end" transform="translate(124.0 0) scale(0.7 1) translate(-124.0 0)">25.0</text>
<circle cx="126.0" cy="94.9" r="1.25" fill="none" stroke="#333" stroke-width="1.45"/>
<text x="124.0" y="166.3" class="ax" text-anchor="end" transform="translate(124.0 0) scale(0.7 1) translate(-124.0 0)">24.5</text>
<circle cx="126.0" cy="154.7" r="1.25" fill="none" stroke="#333" stroke-width="1.45"/>
<text x="124.0" y="226.0" class="ax" text-anchor="end" transform="translate(124.0 0) scale(0.7 1) translate(-124.0 0)">24.0</text>
<circle cx="126.0" cy="214.4" r="1.25" fill="none" stroke="#333" stroke-width="1.45"/>
<text x="124.0" y="285.8" class="ax" text-anchor="end" transform="translate(124.0 0) scale(0.7 1) translate(-124.0 0)">23.5</text>
<circle cx="126.0" cy="274.2" r="1.25" fill="none" stroke="#333" stroke-width="1.45"/>
<text x="124.0" y="345.5" class="ax" text-anchor="end" transform="translate(124.0 0) scale(0.7 1) translate(-124.0 0)">23.0</text>
<circle cx="126.0" cy="333.9" r="1.25" fill="none" stroke="#333" stroke-width="1.45"/>
<text x="124.0" y="405.3" class="ax" text-anchor="end" transform="translate(124.0 0) scale(0.7 1) translate(-124.0 0)">22.5</text>
<circle cx="126.0" cy="393.7" r="1.25" fill="none" stroke="#333" stroke-width="1.45"/>
<text x="124.0" y="465.0" class="ax" text-anchor="end" transform="translate(124.0 0) scale(0.7 1) translate(-124.0 0)">22.0</text>
<circle cx="126.0" cy="453.4" r="1.25" fill="none" stroke="#333" stroke-width="1.45"/>
<text x="124.0" y="524.8" class="ax" text-anchor="end" transform="translate(124.0 0) scale(0.7 1) translate(-124.0 0)">21.5</text>
<circle cx="126.0" cy="513.2" r="1.25" fill="none" stroke="#333" stroke-width="1.45"/>
<text x="131.5" y="537.7" class="ax" text-anchor="middle" transform="translate(131.5 0) scale(0.7 1) translate(-131.5 0)">119.5</text>
<circle cx="147.5" cy="525.3" r="1.25" fill="none" stroke="#333" stroke-width="1.45"/>
<text x="191.7" y="537.7" class="ax" text-anchor="middle" transform="translate(191.7 0) scale(0.7 1) translate(-191.7 0)">120.0</text>
<circle cx="207.7" cy="525.3" r="1.25" fill="none" stroke="#333" stroke-width="1.45"/>
<text x="251.8" y="537.7" class="ax" text-anchor="middle" transform="translate(251.8 0) scale(0.7 1) translate(-251.8 0)">120.5</text>
<circle cx="267.8" cy="525.3" r="1.25" fill="none" stroke="#333" stroke-width="1.45"/>
<text x="311.9" y="537.7" class="ax" text-anchor="middle" transform="translate(311.9 0) scale(0.7 1) translate(-311.9 0)">121.0</text>
<circle cx="327.9" cy="525.3" r="1.25" fill="none" stroke="#333" stroke-width="1.45"/>
<text x="372.1" y="537.7" class="ax" text-anchor="middle" transform="translate(372.1 0) scale(0.7 1) translate(-372.1 0)">121.5</text>
<circle cx="388.1" cy="525.3" r="1.25" fill="none" stroke="#333" stroke-width="1.45"/>
<text x="432.2" y="537.7" class="ax" text-anchor="middle" transform="translate(432.2 0) scale(0.7 1) translate(-432.2 0)">122.0</text>
<circle cx="448.2" cy="525.3" r="1.25" fill="none" stroke="#333" stroke-width="1.45"/>
<text x="492.4" y="537.7" class="ax" text-anchor="middle" transform="translate(492.4 0) scale(0.7 1) translate(-492.4 0)">122.5</text>
<circle cx="508.4" cy="525.3" r="1.25" fill="none" stroke="#333" stroke-width="1.45"/>
<rect x="431.3" y="185.4" width="19.1" height="298.1" fill="url(#g1)" stroke="#333" stroke-width="1"/>
<line x1="450.4" y1="185.4" x2="456.4" y2="185.4" stroke="#333" stroke-width="1"/>
<text x="457.9" y="189.0" class="cb">250</text>
<line x1="450.4" y1="215.2" x2="456.4" y2="215.2" stroke="#333" stroke-width="1"/>
<text x="457.9" y="218.8" class="cb">225</text>
<line x1="450.4" y1="245.0" x2="456.4" y2="245.0" stroke="#333" stroke-width="1"/>
<text x="457.9" y="248.6" class="cb">200</text>
<line x1="450.4" y1="274.8" x2="456.4" y2="274.8" stroke="#333" stroke-width="1"/>
<text x="457.9" y="278.4" class="cb">175</text>
<line x1="450.4" y1="304.6" x2="456.4" y2="304.6" stroke="#333" stroke-width="1"/>
<text x="457.9" y="308.2" class="cb">150</text>
<line x1="450.4" y1="334.5" x2="456.4" y2="334.5" stroke="#333" stroke-width="1"/>
<text x="457.9" y="338.1" class="cb">125</text>
<line x1="450.4" y1="364.3" x2="456.4" y2="364.3" stroke="#333" stroke-width="1"/>
<text x="457.9" y="367.9" class="cb">100</text>
<line x1="450.4" y1="394.1" x2="456.4" y2="394.1" stroke="#333" stroke-width="1"/>
<text x="457.9" y="397.7" class="cb">75</text>
<line x1="450.4" y1="423.9" x2="456.4" y2="423.9" stroke="#333" stroke-width="1"/>
<text x="457.9" y="427.5" class="cb">50</text>
<line x1="450.4" y1="453.7" x2="456.4" y2="453.7" stroke="#333" stroke-width="1"/>
<text x="457.9" y="457.3" class="cb">25</text>
<line x1="450.4" y1="483.5" x2="456.4" y2="483.5" stroke="#333" stroke-width="1"/>
<text x="457.9" y="487.1" class="cb">0</text>
<text x="140" y="513.5" class="lab">SO2沉積量 (mg/m2/day)</text>
<text x="489" y="515" class="tag" text-anchor="end">(SO2-1)</text>
<!-- RIGHT MAP -->
<clipPath id="clipR"><path d="M778.2,95.8 C779.5,94.4 782.0,93.6 784.7,92.5 C787.4,91.4 791.0,90.2 794.5,89.2 C798.0,88.2 801.8,87.7 805.8,86.8 C809.8,85.9 815.8,84.9 818.8,83.6 C821.8,82.2 822.3,80.3 823.7,78.7 C825.1,77.1 825.4,75.4 827.0,73.8 C828.6,72.2 830.8,70.1 833.5,68.9 C836.2,67.7 840.5,66.5 843.2,66.5 C845.9,66.5 847.8,67.4 849.7,68.9 C851.6,70.4 853.0,73.8 854.6,75.4 C856.2,77.0 857.6,77.6 859.5,78.7 C861.4,79.8 864.1,80.5 866.0,81.9 C867.9,83.2 868.7,86.0 870.9,86.8 C873.1,87.6 876.6,86.5 879.0,86.8 C881.4,87.1 883.9,86.8 885.5,88.4 C887.1,90.0 887.1,94.7 888.7,96.6 C890.3,98.5 894.7,98.9 895.2,99.8 C895.8,100.7 893.6,101.5 892.0,102.2 C890.4,102.9 887.7,102.9 885.5,103.9 C883.3,104.8 880.9,106.1 879.0,107.9 C877.1,109.6 875.2,111.9 874.1,114.4 C873.0,116.8 872.5,119.9 872.5,122.6 C872.5,125.3 873.3,127.5 874.1,130.7 C874.9,134.0 876.3,138.6 877.4,142.1 C878.5,145.6 880.4,148.4 880.6,151.8 C880.7,155.2 879.8,158.9 878.3,162.7 C876.8,166.5 873.2,170.9 871.5,174.6 C869.8,178.3 869.8,181.8 868.1,184.9 C866.4,188.0 863.5,190.3 861.3,193.4 C859.1,196.5 856.5,199.4 855.0,203.6 C853.5,207.9 853.2,214.7 852.2,218.9 C851.2,223.2 850.1,225.4 849.0,229.1 C847.9,232.8 846.9,237.0 845.5,241.0 C844.1,245.0 842.1,248.3 840.9,253.0 C839.7,257.7 839.0,264.4 838.1,269.4 C837.2,274.4 836.7,278.2 835.6,283.0 C834.5,287.8 832.9,294.1 831.3,298.4 C829.7,302.7 827.6,305.2 826.2,308.6 C824.8,312.0 823.4,316.0 822.8,318.8 C822.2,321.6 823.6,323.6 822.8,325.6 C821.9,327.6 819.4,328.4 817.7,330.7 C816.0,333.0 814.6,336.1 812.6,339.2 C810.6,342.3 808.1,346.3 805.8,349.4 C803.5,352.5 800.8,355.1 799.0,358.0 C797.2,360.9 797.2,363.8 795.2,366.8 C793.2,369.8 789.7,372.9 787.2,375.8 C784.7,378.7 783.0,381.2 780.4,384.3 C777.8,387.4 774.1,390.8 771.8,394.5 C769.5,398.2 768.2,402.1 766.7,406.4 C765.2,410.7 763.4,415.8 762.5,420.1 C761.6,424.4 761.7,427.5 761.6,432.0 C761.4,436.5 761.9,442.5 761.6,447.3 C761.3,452.1 760.5,457.2 759.9,460.9 C759.3,464.6 758.8,467.4 758.2,469.4 C757.6,471.4 757.6,473.1 756.5,472.8 C755.4,472.5 753.1,468.9 751.4,467.8 C749.7,466.7 747.7,466.6 746.3,466.0 C744.9,465.4 744.0,464.0 742.9,464.3 C741.8,464.6 740.4,468.9 739.5,467.8 C738.6,466.7 738.1,460.9 737.8,457.5 C737.5,454.1 738.1,450.7 737.8,447.3 C737.5,443.9 736.9,440.2 736.1,437.1 C735.2,434.0 734.1,431.4 732.7,428.6 C731.3,425.8 729.6,422.7 727.6,420.1 C725.6,417.6 723.3,415.0 720.8,413.3 C718.2,411.6 715.4,411.6 712.3,409.9 C709.2,408.2 705.4,405.5 702.0,403.0 C698.6,400.5 694.9,398.0 692.2,394.8 C689.5,391.6 687.1,387.5 685.7,383.8 C684.3,380.1 685.1,376.1 684.0,372.5 C682.9,368.9 680.2,365.4 678.8,362.3 C677.4,359.2 676.5,357.2 675.4,353.8 C674.3,350.4 673.7,344.7 672.0,341.9 C670.3,339.1 667.5,338.2 665.2,336.8 C662.9,335.4 659.2,335.4 658.4,333.4 C657.5,331.4 659.2,328.3 660.1,324.9 C661.0,321.5 662.4,316.9 663.5,312.9 C664.6,308.9 665.8,305.5 666.9,301.0 C668.0,296.5 669.4,291.4 670.2,285.8 C671.0,280.2 671.3,271.9 671.9,267.4 C672.5,262.9 673.0,261.7 673.6,258.9 C674.2,256.1 674.7,253.0 675.3,250.4 C675.9,247.8 675.9,245.3 677.0,243.6 C678.1,241.9 680.1,241.6 682.1,240.2 C684.1,238.8 686.7,237.7 689.0,235.1 C691.3,232.6 694.1,228.0 695.8,224.9 C697.5,221.8 698.1,219.2 699.2,216.3 C700.3,213.5 701.2,210.6 702.6,207.8 C704.0,205.0 706.3,202.0 707.7,199.3 C709.1,196.6 709.9,194.0 711.2,191.8 C712.5,189.6 713.5,188.9 715.4,186.2 C717.2,183.6 720.0,179.0 722.3,175.9 C724.6,172.8 727.1,170.2 729.1,167.4 C731.1,164.6 732.5,161.7 734.2,158.9 C735.9,156.1 737.3,152.9 739.3,150.4 C741.3,147.9 743.8,145.3 746.1,143.6 C748.4,141.9 750.6,141.9 752.9,140.2 C755.2,138.5 758.0,136.0 759.7,133.4 C761.4,130.8 761.7,127.5 763.1,124.9 C764.5,122.3 766.5,120.6 768.2,118.0 C769.9,115.4 771.9,112.3 773.3,109.5 C774.7,106.7 775.9,103.3 776.7,101.0 C777.5,98.7 776.9,97.2 778.2,95.8Z"/></clipPath>
<g clip-path="url(#clipR)">
<g filter="url(#blur3)">
<path d="M778.2,95.8 C779.5,94.4 782.0,93.6 784.7,92.5 C787.4,91.4 791.0,90.2 794.5,89.2 C798.0,88.2 801.8,87.7 805.8,86.8 C809.8,85.9 815.8,84.9 818.8,83.6 C821.8,82.2 822.3,80.3 823.7,78.7 C825.1,77.1 825.4,75.4 827.0,73.8 C828.6,72.2 830.8,70.1 833.5,68.9 C836.2,67.7 840.5,66.5 843.2,66.5 C845.9,66.5 847.8,67.4 849.7,68.9 C851.6,70.4 853.0,73.8 854.6,75.4 C856.2,77.0 857.6,77.6 859.5,78.7 C861.4,79.8 864.1,80.5 866.0,81.9 C867.9,83.2 868.7,86.0 870.9,86.8 C873.1,87.6 876.6,86.5 879.0,86.8 C881.4,87.1 883.9,86.8 885.5,88.4 C887.1,90.0 887.1,94.7 888.7,96.6 C890.3,98.5 894.7,98.9 895.2,99.8 C895.8,100.7 893.6,101.5 892.0,102.2 C890.4,102.9 887.7,102.9 885.5,103.9 C883.3,104.8 880.9,106.1 879.0,107.9 C877.1,109.6 875.2,111.9 874.1,114.4 C873.0,116.8 872.5,119.9 872.5,122.6 C872.5,125.3 873.3,127.5 874.1,130.7 C874.9,134.0 876.3,138.6 877.4,142.1 C878.5,145.6 880.4,148.4 880.6,151.8 C880.7,155.2 879.8,158.9 878.3,162.7 C876.8,166.5 873.2,170.9 871.5,174.6 C869.8,178.3 869.8,181.8 868.1,184.9 C866.4,188.0 863.5,190.3 861.3,193.4 C859.1,196.5 856.5,199.4 855.0,203.6 C853.5,207.9 853.2,214.7 852.2,218.9 C851.2,223.2 850.1,225.4 849.0,229.1 C847.9,232.8 846.9,237.0 845.5,241.0 C844.1,245.0 842.1,248.3 840.9,253.0 C839.7,257.7 839.0,264.4 838.1,269.4 C837.2,274.4 836.7,278.2 835.6,283.0 C834.5,287.8 832.9,294.1 831.3,298.4 C829.7,302.7 827.6,305.2 826.2,308.6 C824.8,312.0 823.4,316.0 822.8,318.8 C822.2,321.6 823.6,323.6 822.8,325.6 C821.9,327.6 819.4,328.4 817.7,330.7 C816.0,333.0 814.6,336.1 812.6,339.2 C810.6,342.3 808.1,346.3 805.8,349.4 C803.5,352.5 800.8,355.1 799.0,358.0 C797.2,360.9 797.2,363.8 795.2,366.8 C793.2,369.8 789.7,372.9 787.2,375.8 C784.7,378.7 783.0,381.2 780.4,384.3 C777.8,387.4 774.1,390.8 771.8,394.5 C769.5,398.2 768.2,402.1 766.7,406.4 C765.2,410.7 763.4,415.8 762.5,420.1 C761.6,424.4 761.7,427.5 761.6,432.0 C761.4,436.5 761.9,442.5 761.6,447.3 C761.3,452.1 760.5,457.2 759.9,460.9 C759.3,464.6 758.8,467.4 758.2,469.4 C757.6,471.4 757.6,473.1 756.5,472.8 C755.4,472.5 753.1,468.9 751.4,467.8 C749.7,466.7 747.7,466.6 746.3,466.0 C744.9,465.4 744.0,464.0 742.9,464.3 C741.8,464.6 740.4,468.9 739.5,467.8 C738.6,466.7 738.1,460.9 737.8,457.5 C737.5,454.1 738.1,450.7 737.8,447.3 C737.5,443.9 736.9,440.2 736.1,437.1 C735.2,434.0 734.1,431.4 732.7,428.6 C731.3,425.8 729.6,422.7 727.6,420.1 C725.6,417.6 723.3,415.0 720.8,413.3 C718.2,411.6 715.4,411.6 712.3,409.9 C709.2,408.2 705.4,405.5 702.0,403.0 C698.6,400.5 694.9,398.0 692.2,394.8 C689.5,391.6 687.1,387.5 685.7,383.8 C684.3,380.1 685.1,376.1 684.0,372.5 C682.9,368.9 680.2,365.4 678.8,362.3 C677.4,359.2 676.5,357.2 675.4,353.8 C674.3,350.4 673.7,344.7 672.0,341.9 C670.3,339.1 667.5,338.2 665.2,336.8 C662.9,335.4 659.2,335.4 658.4,333.4 C657.5,331.4 659.2,328.3 660.1,324.9 C661.0,321.5 662.4,316.9 663.5,312.9 C664.6,308.9 665.8,305.5 666.9,301.0 C668.0,296.5 669.4,291.4 670.2,285.8 C671.0,280.2 671.3,271.9 671.9,267.4 C672.5,262.9 673.0,261.7 673.6,258.9 C674.2,256.1 674.7,253.0 675.3,250.4 C675.9,247.8 675.9,245.3 677.0,243.6 C678.1,241.9 680.1,241.6 682.1,240.2 C684.1,238.8 686.7,237.7 689.0,235.1 C691.3,232.6 694.1,228.0 695.8,224.9 C697.5,221.8 698.1,219.2 699.2,216.3 C700.3,213.5 701.2,210.6 702.6,207.8 C704.0,205.0 706.3,202.0 707.7,199.3 C709.1,196.6 709.9,194.0 711.2,191.8 C712.5,189.6 713.5,188.9 715.4,186.2 C717.2,183.6 720.0,179.0 722.3,175.9 C724.6,172.8 727.1,170.2 729.1,167.4 C731.1,164.6 732.5,161.7 734.2,158.9 C735.9,156.1 737.3,152.9 739.3,150.4 C741.3,147.9 743.8,145.3 746.1,143.6 C748.4,141.9 750.6,141.9 752.9,140.2 C755.2,138.5 758.0,136.0 759.7,133.4 C761.4,130.8 761.7,127.5 763.1,124.9 C764.5,122.3 766.5,120.6 768.2,118.0 C769.9,115.4 771.9,112.3 773.3,109.5 C774.7,106.7 775.9,103.3 776.7,101.0 C777.5,98.7 776.9,97.2 778.2,95.8Z" fill="#8a00ff" stroke="#8a00ff" stroke-width="8"/>
<path d="M706.2,197.8 C709.9,196.8 717.7,198.0 721.2,200.8 C724.7,203.6 725.7,209.0 727.2,214.8 C728.7,220.6 729.5,230.3 730.2,235.8 C730.9,241.3 732.8,243.2 731.3,247.9 C729.8,252.6 725.6,259.7 721.1,263.8 C716.6,267.9 709.8,270.3 704.1,272.8 C698.4,275.3 693.1,277.5 687.1,278.8 C681.1,280.1 671.5,284.3 668.2,280.8 C664.9,277.3 663.9,267.0 667.2,257.8 C670.5,248.6 682.9,234.3 688.2,225.8 C693.5,217.3 696.2,211.5 699.2,206.8 C702.2,202.1 702.5,198.8 706.2,197.8Z" fill="#ff00c8" opacity="1.0"/>
<path d="M707.2,203.8 C709.0,204.8 710.5,209.2 712.2,212.8 C713.9,216.4 715.2,220.9 717.2,225.3 C719.2,229.7 726.7,235.1 724.5,239.4 C722.3,243.7 712.3,247.9 704.1,251.3 C695.9,254.7 681.2,258.7 675.1,259.8 C669.0,260.9 668.4,260.7 667.7,258.1 C667.0,255.6 668.5,247.7 671.1,244.5 C673.7,241.3 679.9,241.6 683.2,238.8 C686.6,236.0 689.0,231.4 691.2,227.5 C693.4,223.6 694.5,218.9 696.2,215.5 C697.9,212.1 699.4,208.9 701.2,207.0 C703.0,205.1 705.4,202.8 707.2,203.8Z" fill="#ff0000" opacity="1.0"/>
<path d="M779.2,92.8 C782.4,89.1 791.5,87.5 798.2,86.8 C804.9,86.1 814.4,86.5 819.2,88.8 C824.0,91.1 826.9,96.5 827.2,100.8 C827.5,105.1 824.4,111.3 821.2,114.8 C818.0,118.3 813.7,121.0 808.2,121.8 C802.7,122.6 793.0,122.0 788.2,119.8 C783.4,117.6 780.7,113.3 779.2,108.8 C777.7,104.3 776.0,96.5 779.2,92.8Z" fill="#ff00c0" opacity="1.0"/>
<path d="M782.2,92.8 C785.5,91.1 797.4,90.6 803.2,90.8 C809.0,91.0 814.5,92.1 817.2,93.8 C819.9,95.5 820.5,97.6 819.2,100.8 C817.9,104.0 812.0,110.0 809.2,112.8 C806.4,115.6 804.9,118.1 802.2,117.8 C799.5,117.5 796.4,113.6 793.2,110.8 C790.0,108.0 785.0,103.8 783.2,100.8 C781.4,97.8 778.9,94.5 782.2,92.8Z" fill="#ff0010" opacity="1.0"/>
<path d="M675.2,356.8 C676.2,351.3 683.9,351.8 689.2,352.8 C694.5,353.8 702.5,358.1 707.2,362.8 C711.9,367.5 715.2,374.5 717.2,380.8 C719.2,387.1 720.2,395.8 719.2,400.8 C718.2,405.8 715.2,410.5 711.2,410.8 C707.2,411.1 699.9,407.0 695.2,402.8 C690.5,398.6 686.5,393.5 683.2,385.8 C679.9,378.1 674.2,362.3 675.2,356.8Z" fill="#ff00c0" opacity="0.95"/>
<ellipse cx="684.7" cy="371.3" rx="7" ry="10" fill="#ff0020" opacity="1"/>
<ellipse cx="702.5" cy="394.4" rx="6.5" ry="9" fill="#ff0010" opacity="1"/>
<ellipse cx="873.2" cy="144.5" rx="7" ry="12" fill="#ff00a0" opacity="1.0"/>
<ellipse cx="873.2" cy="144.5" rx="4" ry="6" fill="#ff0010" opacity="1.0"/>
<path d="M763.2,136.8 C765.0,134.7 766.7,133.4 770.0,132.1 C773.3,130.8 778.6,129.9 783.2,128.8 C787.9,127.7 792.4,127.4 797.9,125.6 C803.4,123.8 811.0,121.0 816.4,118.2 C821.8,115.4 827.9,112.6 830.4,108.9 C832.9,105.2 831.5,99.9 831.2,95.8 C830.9,91.7 828.9,88.1 828.6,84.3 C828.3,80.5 828.1,76.4 829.2,72.8 C830.3,69.2 832.0,64.5 835.2,62.8 C838.4,61.1 844.2,61.1 848.2,62.8 C852.2,64.5 855.0,69.8 859.2,72.8 C863.4,75.8 868.4,78.8 873.2,80.8 C878.0,82.8 883.9,81.8 888.2,84.8 C892.5,87.8 899.4,95.3 899.2,98.8 C899.0,102.3 890.5,104.0 887.2,105.8 C883.9,107.6 881.4,108.0 879.2,109.8 C877.0,111.6 875.7,114.3 874.2,116.8 C872.7,119.3 871.4,122.1 870.2,124.8 C869.0,127.5 867.9,129.8 867.2,132.8 C866.5,135.8 866.2,139.5 866.2,142.8 C866.2,146.1 866.9,149.5 867.2,152.8 C867.5,156.1 867.4,159.5 868.2,162.8 C869.0,166.1 871.7,169.5 872.2,172.8 C872.7,176.1 872.4,179.5 871.2,182.8 C870.0,186.1 867.4,189.3 865.2,192.8 C863.0,196.3 860.0,199.6 858.2,203.8 C856.4,208.0 855.7,214.1 854.2,217.8 C852.7,221.5 850.4,222.0 849.2,225.8 C848.0,229.6 848.0,235.8 847.2,240.8 C846.4,245.8 845.2,250.8 844.2,255.8 C843.2,260.8 842.0,266.0 841.2,270.8 C840.4,275.6 840.2,279.8 839.2,284.8 C838.2,289.8 836.7,296.3 835.2,300.8 C833.7,305.3 831.5,308.5 830.2,311.8 C828.9,315.1 827.7,318.1 827.2,320.8 C826.7,323.5 828.2,325.5 827.2,327.8 C826.2,330.1 823.0,332.3 821.2,334.8 C819.4,337.3 818.2,339.8 816.2,342.8 C814.2,345.8 811.5,349.6 809.2,352.8 C806.9,356.0 803.9,359.0 802.2,361.8 C800.5,364.6 801.2,366.8 799.2,369.8 C797.2,372.8 792.9,376.8 790.2,379.8 C787.5,382.8 785.7,384.8 783.2,387.8 C780.7,390.8 777.4,394.3 775.2,397.8 C773.0,401.3 771.7,405.0 770.2,408.8 C768.7,412.6 767.0,416.8 766.2,420.8 C765.4,424.8 765.4,428.3 765.2,432.8 C765.0,437.3 765.5,443.0 765.2,447.8 C764.9,452.6 763.7,458.0 763.2,461.8 C762.7,465.6 762.9,468.1 762.2,470.8 C761.5,473.5 761.0,477.5 759.2,477.8 C757.4,478.1 753.5,474.0 751.2,472.8 C748.9,471.6 747.2,470.8 745.2,470.8 C743.2,470.8 741.2,474.1 739.2,472.8 C737.2,471.5 734.2,467.0 733.2,462.8 C732.2,458.6 733.5,451.8 733.2,447.8 C732.9,443.8 732.0,441.6 731.2,438.8 C730.4,436.0 729.5,433.6 728.2,430.8 C726.9,428.0 724.9,426.9 723.2,421.8 C721.5,416.7 719.3,406.1 717.8,400.0 C716.3,393.9 716.1,390.1 714.4,385.4 C712.7,380.7 710.1,376.2 707.6,371.7 C705.1,367.1 701.7,363.2 699.1,358.1 C696.5,353.0 693.1,346.8 692.3,341.1 C691.4,335.4 692.9,329.8 694.0,324.1 C695.1,318.4 698.2,312.7 699.1,307.0 C700.0,301.3 698.3,294.8 699.1,290.0 C699.9,285.2 701.9,282.4 704.1,278.5 C706.4,274.6 709.2,270.6 712.6,266.6 C716.0,262.6 721.4,259.0 724.5,254.7 C727.6,250.5 730.4,247.6 731.3,241.1 C732.1,234.6 730.4,224.0 729.6,215.5 C728.7,207.0 726.4,196.6 726.2,190.0 C726.0,183.4 726.9,180.0 728.2,175.8 C729.5,171.6 731.3,168.4 734.0,164.9 C736.7,161.4 740.0,158.1 744.2,154.7 C748.5,151.3 756.3,147.5 759.5,144.5 C762.7,141.5 761.5,138.9 763.2,136.8Z" fill="#0a00ff" stroke="#5500ff" stroke-width="7" paint-order="stroke"/>
<ellipse cx="839.7" cy="83.4" rx="9.5" ry="8.5" fill="#ff00d0" opacity="1.0"/>
<ellipse cx="839.7" cy="83.4" rx="3" ry="2.6" fill="#ff0030" opacity="1.0"/>
<path d="M770.0,145.1 C774.2,143.0 782.4,139.2 788.6,135.9 C794.8,132.7 801.5,129.0 807.1,125.6 C812.7,122.2 817.4,118.6 822.0,115.4 C826.6,112.1 829.7,109.0 835.0,106.1 C840.3,103.2 848.1,100.6 853.6,97.8 C859.1,95.0 864.1,91.0 868.2,89.3 C872.3,87.5 874.9,87.0 878.2,87.3 C881.5,87.5 885.7,88.9 888.2,90.8 C890.7,92.7 893.4,96.6 893.2,98.8 C893.0,101.0 889.7,102.5 887.2,103.8 C884.7,105.1 881.2,104.8 878.2,106.8 C875.2,108.8 871.8,112.2 869.2,115.8 C866.6,119.4 864.4,124.1 862.5,128.3 C860.6,132.6 857.8,138.4 857.6,141.3 C857.4,144.2 860.2,143.2 861.1,145.8 C862.0,148.4 862.2,152.3 862.8,157.0 C863.4,161.7 863.9,169.4 864.5,174.0 C865.1,178.6 865.8,181.5 866.2,184.3 C866.7,187.1 868.4,188.1 867.2,190.8 C866.0,193.6 861.2,196.6 859.2,200.8 C857.2,205.0 856.9,211.6 855.2,215.8 C853.5,220.0 850.5,221.6 849.2,225.8 C847.9,230.0 848.0,235.8 847.2,240.8 C846.4,245.8 845.2,250.8 844.2,255.8 C843.2,260.8 842.0,266.0 841.2,270.8 C840.4,275.6 840.2,279.8 839.2,284.8 C838.2,289.8 836.7,296.3 835.2,300.8 C833.7,305.3 831.5,308.5 830.2,311.8 C828.9,315.1 827.7,318.1 827.2,320.8 C826.7,323.5 828.2,325.5 827.2,327.8 C826.2,330.1 823.0,332.3 821.2,334.8 C819.4,337.3 818.2,339.8 816.2,342.8 C814.2,345.8 811.5,349.6 809.2,352.8 C806.9,356.0 803.9,359.0 802.2,361.8 C800.5,364.6 801.2,366.8 799.2,369.8 C797.2,372.8 792.9,376.8 790.2,379.8 C787.5,382.8 785.7,384.8 783.2,387.8 C780.7,390.8 777.4,394.3 775.2,397.8 C773.0,401.3 771.7,405.0 770.2,408.8 C768.7,412.6 767.0,416.8 766.2,420.8 C765.4,424.8 765.4,428.3 765.2,432.8 C765.0,437.3 765.5,443.0 765.2,447.8 C764.9,452.6 763.7,458.0 763.2,461.8 C762.7,465.6 762.9,468.1 762.2,470.8 C761.5,473.5 761.0,477.5 759.2,477.8 C757.4,478.1 753.5,474.0 751.2,472.8 C748.9,471.6 747.2,470.8 745.2,470.8 C743.2,470.8 741.2,474.1 739.2,472.8 C737.2,471.5 734.2,467.0 733.2,462.8 C732.2,458.6 733.5,451.8 733.2,447.8 C732.9,443.8 732.0,441.6 731.2,438.8 C730.4,436.0 729.5,433.6 728.2,430.8 C726.9,428.0 723.8,426.9 723.2,421.8 C722.6,416.7 724.6,406.9 724.6,400.0 C724.5,393.1 724.3,385.8 722.9,380.2 C721.5,374.6 719.2,370.9 716.1,366.6 C713.0,362.4 706.8,358.9 704.2,354.7 C701.7,350.4 701.1,346.2 700.8,341.1 C700.5,336.0 701.1,329.8 702.5,324.1 C703.9,318.4 707.5,311.7 709.3,307.0 C711.1,302.3 711.7,299.3 713.2,295.8 C714.7,292.3 716.3,289.2 718.2,285.8 C720.1,282.4 722.3,279.2 724.5,275.1 C726.7,271.1 729.0,265.8 731.3,261.5 C733.6,257.2 735.8,253.9 738.1,249.6 C740.4,245.4 743.6,241.7 745.0,236.0 C746.4,230.3 746.7,223.2 746.7,215.5 C746.7,207.8 745.4,196.7 745.0,190.0 C744.6,183.3 743.8,179.3 744.2,175.1 C744.6,170.9 745.6,168.3 747.6,164.9 C749.6,161.5 753.5,157.4 756.1,154.7 C758.7,152.0 760.9,150.4 763.2,148.8 C765.5,147.2 765.8,147.3 770.0,145.1Z" fill="#00f008" stroke="#0070b0" stroke-width="3.5" paint-order="stroke"/>
<path d="M770.0,150.7 C772.9,148.8 778.5,146.4 783.9,143.3 C789.3,140.2 796.1,136.1 802.5,132.1 C808.9,128.1 815.8,123.0 822.0,119.1 C828.2,115.2 834.3,111.4 839.6,108.9 C844.9,106.4 849.7,106.1 853.6,104.3 C857.5,102.5 859.8,99.5 862.9,97.8 C866.0,96.0 869.6,94.1 872.3,93.8 C874.9,93.5 877.2,94.4 878.8,95.8 C880.4,97.2 882.5,99.9 882.0,102.3 C881.5,104.7 878.2,108.0 875.5,110.4 C872.8,112.8 869.6,114.7 865.8,116.9 C862.0,119.1 855.5,121.2 852.8,123.4 C850.1,125.6 849.8,126.9 849.5,129.9 C849.2,132.9 850.0,137.8 851.1,141.3 C852.2,144.8 854.9,148.4 856.0,151.0 C857.1,153.6 857.3,153.2 857.7,157.0 C858.1,160.8 859.4,169.8 858.6,174.1 C857.7,178.4 854.2,179.5 852.6,182.6 C851.0,185.7 849.9,189.4 849.2,192.8 C848.5,196.2 849.4,199.9 848.3,203.0 C847.2,206.1 843.8,209.2 842.4,211.5 C841.0,213.8 840.2,213.4 839.8,216.6 C839.4,219.8 839.9,225.2 840.2,230.8 C840.5,236.4 841.4,244.7 841.7,250.0 C842.0,255.3 842.5,258.3 842.2,262.8 C842.0,267.3 841.0,272.1 840.2,276.8 C839.4,281.5 838.4,286.5 837.2,290.8 C836.0,295.1 834.7,299.0 833.2,302.8 C831.7,306.6 829.5,310.5 828.2,313.8 C827.0,317.1 826.9,320.0 825.7,322.8 C824.5,325.6 823.1,327.8 821.2,330.8 C819.3,333.8 817.0,337.4 814.2,340.8 C811.4,344.2 809.3,348.6 804.2,351.2 C799.1,353.8 788.2,354.6 783.6,356.3 C779.0,358.0 778.7,359.3 776.8,361.4 C774.9,363.5 773.1,365.6 772.2,368.8 C771.3,372.0 771.5,376.6 771.5,380.8 C771.5,385.0 772.6,389.5 772.2,393.8 C771.8,398.1 770.4,402.3 769.2,406.8 C768.0,411.3 766.0,416.5 765.2,420.8 C764.5,425.1 764.9,428.5 764.7,432.8 C764.5,437.1 764.8,442.5 764.2,446.8 C763.6,451.1 762.7,457.0 761.2,458.8 C759.7,460.6 756.6,458.6 755.2,457.8 C753.9,457.0 754.0,456.4 753.1,454.1 C752.2,451.8 751.4,447.3 749.7,443.9 C748.0,440.5 744.9,436.5 742.9,433.7 C740.9,430.9 740.1,429.5 737.8,426.9 C735.5,424.4 730.9,421.9 729.3,418.4 C727.7,414.9 728.1,410.7 728.2,405.8 C728.3,400.9 729.7,393.9 729.7,388.8 C729.7,383.7 729.7,378.8 728.0,375.1 C726.3,371.4 722.6,368.9 719.5,366.6 C716.4,364.3 711.3,364.9 709.3,361.5 C707.3,358.1 708.0,351.3 707.6,346.2 C707.2,341.1 705.9,335.5 706.7,330.9 C707.6,326.4 709.7,323.2 712.7,318.9 C715.7,314.6 722.0,310.1 724.6,305.3 C727.1,300.5 726.9,294.5 728.0,290.0 C729.1,285.5 729.6,283.0 731.3,278.5 C733.0,274.0 734.7,268.3 738.1,263.2 C741.5,258.1 748.7,253.0 751.8,247.9 C754.9,242.8 756.3,239.4 756.9,232.6 C757.5,225.8 755.5,214.1 755.2,207.0 C754.9,199.9 755.1,193.9 755.2,190.0 C755.4,186.1 755.7,186.9 756.1,183.6 C756.5,180.3 756.9,173.7 757.8,170.0 C758.6,166.3 759.8,164.1 761.2,161.5 C762.6,158.9 764.8,156.5 766.3,154.7 C767.8,152.9 767.1,152.6 770.0,150.7Z" fill="#e8ff00" stroke="#a8ff00" stroke-width="3" paint-order="stroke"/>
<ellipse cx="829.2" cy="270.8" rx="9" ry="45" fill="#d0f000" opacity="0.45"/>
<ellipse cx="763.2" cy="410.8" rx="10" ry="28" fill="#d0f000" opacity="0.4"/>
<ellipse cx="743.2" cy="360.8" rx="10" ry="25" fill="#d8f800" opacity="0.35"/>
<ellipse cx="793.2" cy="240.8" rx="30" ry="40" fill="#faff10" opacity="0.6"/>
<ellipse cx="793.2" cy="320.8" rx="25" ry="40" fill="#f8ff10" opacity="0.5"/>
<ellipse cx="793.2" cy="170.8" rx="22" ry="25" fill="#faff10" opacity="0.5"/>
<ellipse cx="868.2" cy="103.8" rx="9" ry="6" fill="#fcff70" opacity="0.8"/>
<ellipse cx="823.2" cy="140.8" rx="12" ry="10" fill="#faff40" opacity="0.5"/>
</g>
<path d="M755.3,186.2 C757.8,185.6 764.8,183.9 770.2,182.5 C775.6,181.1 781.7,179.3 787.5,177.6 C793.3,176.0 800.7,173.6 804.8,172.6 C808.9,171.6 808.9,171.0 812.2,171.4 C815.5,171.8 820.6,173.7 824.7,175.1 C828.8,176.6 832.5,179.3 837.0,180.1 C841.5,180.9 849.4,180.1 851.9,180.1" fill="none" stroke="#a09868" stroke-width="1.1" stroke-dasharray="4 2.5" opacity="0.9"/>
<path d="M756.5,209.8 C759.6,208.2 769.1,202.4 775.1,199.9 C781.1,197.4 786.7,195.7 792.5,194.9 C798.3,194.1 805.7,195.7 809.8,194.9 C813.9,194.1 816.0,190.8 817.2,190.0" fill="none" stroke="#a09868" stroke-width="1.1" stroke-dasharray="4 2.5" opacity="0.9"/>
<path d="M812.2,171.4 C813.5,168.7 817.6,159.6 819.7,155.3 C821.8,151.0 822.6,147.9 824.7,145.4 C826.8,142.9 829.2,142.1 832.1,140.4 C835.0,138.8 838.7,138.4 842.0,135.5 C845.3,132.6 850.2,125.2 851.9,123.1" fill="none" stroke="#a09868" stroke-width="1.1" stroke-dasharray="4 2.5" opacity="0.9"/>
<path d="M817.2,190.0 C816.4,192.5 813.9,199.9 812.2,204.8 C810.6,209.8 808.5,214.3 807.3,219.7 C806.1,225.1 805.6,231.8 804.8,237.0 C803.9,242.2 802.6,246.0 802.2,250.8 C801.8,255.6 803.5,261.6 802.2,265.7 C801.0,269.8 797.2,273.1 794.7,275.6 C792.2,278.1 790.2,278.9 787.3,280.5 C784.4,282.1 780.7,285.1 777.4,285.5 C774.1,285.9 771.2,283.4 767.5,283.0 C763.8,282.6 757.6,285.1 755.1,283.0 C752.6,280.9 755.1,273.5 752.6,270.6 C750.1,267.7 743.5,266.1 740.2,265.7 C736.9,265.3 734.0,267.7 732.8,268.1" fill="none" stroke="#a09868" stroke-width="1.1" stroke-dasharray="4 2.5" opacity="0.9"/>
<path d="M780.1,147.8 C780.5,149.9 781.8,157.7 782.6,160.2 C783.4,162.7 782.5,162.3 785.0,162.7 C787.5,163.1 794.1,161.9 797.4,162.7 C800.7,163.5 802.3,166.3 804.8,167.7 C807.3,169.2 811.0,170.8 812.2,171.4" fill="none" stroke="#a09868" stroke-width="1.1" stroke-dasharray="4 2.5" opacity="0.9"/>
<path d="M777.4,285.5 C777.0,287.1 774.9,292.1 774.9,295.4 C774.9,298.7 775.3,302.4 777.4,305.3 C779.5,308.2 783.6,309.8 787.3,312.7 C791.0,315.6 796.0,320.1 799.7,322.6 C803.4,325.1 806.7,328.0 809.6,327.6 C812.5,327.2 814.9,324.8 817.0,320.2 C819.1,315.6 819.9,305.3 822.0,300.3 C824.1,295.3 828.2,292.1 829.4,290.4" fill="none" stroke="#a09868" stroke-width="1.1" stroke-dasharray="4 2.5" opacity="0.9"/>
<path d="M774.9,295.4 C772.8,296.2 766.6,298.7 762.5,300.3 C758.4,301.9 754.3,304.1 750.2,305.3 C746.1,306.6 742.8,306.2 737.8,307.8 C732.8,309.4 723.3,314.0 720.4,315.2" fill="none" stroke="#a09868" stroke-width="1.1" stroke-dasharray="4 2.5" opacity="0.9"/>
<path d="M767.5,310.2 C766.7,312.3 764.1,318.1 762.5,322.6 C760.9,327.2 758.8,332.9 757.6,337.5 C756.4,342.1 755.1,346.2 755.1,349.9 C755.1,353.6 756.8,356.5 757.6,359.8 C758.4,363.1 760.5,365.6 760.1,369.7 C759.7,373.8 756.7,379.6 755.1,384.5 C753.4,389.4 751.4,395.0 750.2,399.4 C749.0,403.8 747.9,406.4 747.7,410.8 C747.5,415.2 749.0,423.3 749.2,425.8" fill="none" stroke="#a09868" stroke-width="1.1" stroke-dasharray="4 2.5" opacity="0.9"/>
<path d="M713.0,362.3 C715.9,361.5 725.4,358.1 730.4,357.3 C735.4,356.5 738.6,356.9 742.7,357.3 C746.8,357.7 753.0,359.4 755.1,359.8" fill="none" stroke="#a09868" stroke-width="1.1" stroke-dasharray="4 2.5" opacity="0.9"/>
<path d="M809.8,128.0 C810.6,130.1 813.5,136.7 814.7,140.4 C815.9,144.1 816.8,148.7 817.2,150.3" fill="none" stroke="#a09868" stroke-width="1.1" stroke-dasharray="4 2.5" opacity="0.9"/>
<path d="M717.9,201.0 C719.3,203.0 724.1,208.9 726.4,212.9 C728.7,216.9 730.4,219.4 731.5,224.8 C732.6,230.2 734.1,240.2 733.2,245.3 C732.4,250.4 727.5,253.8 726.4,255.5" fill="none" stroke="#f0d8ff" stroke-width="0.9" stroke-dasharray="3.5 2.5" opacity="0.7"/>
<path d="M699.2,241.8 C701.5,242.4 707.1,244.4 712.8,245.3 C718.5,246.2 729.8,246.7 733.2,247.0" fill="none" stroke="#f0d8ff" stroke-width="0.9" stroke-dasharray="3.5 2.5" opacity="0.7"/>
<path d="M670.2,267.4 C673.0,266.6 681.5,264.0 687.2,262.3 C692.9,260.6 698.5,258.3 704.2,257.2 C709.9,256.1 718.4,255.8 721.3,255.5" fill="none" stroke="#f0d8ff" stroke-width="0.9" stroke-dasharray="3.5 2.5" opacity="0.7"/>
<path d="M675.2,300.8 C677.4,300.1 683.9,298.5 688.2,296.8 C692.5,295.1 697.7,293.1 701.2,290.8 C704.7,288.5 707.9,284.1 709.2,282.8" fill="none" stroke="#f0d8ff" stroke-width="0.9" stroke-dasharray="3.5 2.5" opacity="0.7"/>
<path d="M685.2,353.8 C686.9,353.1 691.5,350.3 695.2,349.8 C698.9,349.3 705.2,350.6 707.2,350.8" fill="none" stroke="#f0d8ff" stroke-width="0.9" stroke-dasharray="3.5 2.5" opacity="0.7"/>
<path d="M763.2,104.8 C764.9,106.1 770.2,110.5 773.2,112.8 C776.2,115.1 779.9,117.8 781.2,118.8" fill="none" stroke="#f0d8ff" stroke-width="0.9" stroke-dasharray="3.5 2.5" opacity="0.7"/>
<path d="M828.2,80.8 C827.7,82.5 824.7,87.5 825.2,90.8 C825.7,94.1 829.5,98.5 831.2,100.8 C832.9,103.1 834.5,104.1 835.2,104.8" fill="none" stroke="#f0d8ff" stroke-width="0.9" stroke-dasharray="3.5 2.5" opacity="0.7"/>
<circle cx="765.0" cy="307.8" r="1.3" fill="#222"/>
<path d="M792.2,96.3 C794.3,95.8 799.7,95.0 803.2,95.0 C806.7,95.0 811.3,95.9 813.2,96.6 C815.1,97.3 815.4,97.4 814.7,99.3 C814.0,101.2 811.0,105.3 809.2,107.8 C807.5,110.3 805.5,113.2 804.2,114.3 C803.0,115.4 803.0,115.7 801.7,114.3 C800.4,112.9 798.0,108.5 796.2,105.8 C794.4,103.1 791.4,99.9 790.7,98.3 C790.0,96.7 790.1,96.8 792.2,96.3Z" fill="#ff0000" stroke="#3a0010" stroke-width="1.1"/>
<path d="M707.2,203.8 C708.2,205.6 711.4,211.0 713.2,214.8 C715.0,218.6 716.4,222.7 718.2,226.8 C720.0,230.9 725.0,236.2 724.2,239.4 C723.4,242.6 716.6,243.8 713.2,245.8 C709.9,247.8 708.1,249.6 704.1,251.3 C700.1,253.0 694.0,254.4 689.2,255.8 C684.4,257.2 678.6,259.0 675.1,259.8 C671.6,260.6 669.4,260.6 668.2,260.8" fill="none" stroke="#200010" stroke-width="1.1"/>
<ellipse cx="839.7" cy="83.4" rx="3" ry="2.6" fill="none" stroke="#111" stroke-width="1.2"/>
<ellipse cx="873.2" cy="144.5" rx="3.5" ry="5" fill="none" stroke="#111" stroke-width="1.2"/>
<path d="M770.0,150.7 C772.9,148.8 778.5,146.4 783.9,143.3 C789.3,140.2 796.1,136.1 802.5,132.1 C808.9,128.1 815.8,123.0 822.0,119.1 C828.2,115.2 834.3,111.4 839.6,108.9 C844.9,106.4 849.7,106.1 853.6,104.3 C857.5,102.5 859.8,99.5 862.9,97.8 C866.0,96.0 869.6,94.1 872.3,93.8 C874.9,93.5 877.2,94.4 878.8,95.8 C880.4,97.2 882.5,99.9 882.0,102.3 C881.5,104.7 878.2,108.0 875.5,110.4 C872.8,112.8 869.6,114.7 865.8,116.9 C862.0,119.1 855.5,121.2 852.8,123.4 C850.1,125.6 849.8,126.9 849.5,129.9 C849.2,132.9 850.0,137.8 851.1,141.3 C852.2,144.8 854.9,148.4 856.0,151.0 C857.1,153.6 857.3,153.2 857.7,157.0 C858.1,160.8 859.4,169.8 858.6,174.1 C857.7,178.4 854.2,179.5 852.6,182.6 C851.0,185.7 849.9,189.4 849.2,192.8 C848.5,196.2 849.4,199.9 848.3,203.0 C847.2,206.1 843.8,209.2 842.4,211.5 C841.0,213.8 840.2,213.4 839.8,216.6 C839.4,219.8 839.9,225.2 840.2,230.8 C840.5,236.4 841.4,244.7 841.7,250.0 C842.0,255.3 842.5,258.3 842.2,262.8 C842.0,267.3 841.0,272.1 840.2,276.8 C839.4,281.5 838.4,286.5 837.2,290.8 C836.0,295.1 834.7,299.0 833.2,302.8 C831.7,306.6 829.5,310.5 828.2,313.8 C827.0,317.1 826.9,320.0 825.7,322.8 C824.5,325.6 823.1,327.8 821.2,330.8 C819.3,333.8 817.0,337.4 814.2,340.8 C811.4,344.2 809.3,348.6 804.2,351.2 C799.1,353.8 788.2,354.6 783.6,356.3 C779.0,358.0 778.7,359.3 776.8,361.4 C774.9,363.5 773.1,365.6 772.2,368.8 C771.3,372.0 771.5,376.6 771.5,380.8 C771.5,385.0 772.6,389.5 772.2,393.8 C771.8,398.1 770.4,402.3 769.2,406.8 C768.0,411.3 766.0,416.5 765.2,420.8 C764.5,425.1 764.9,428.5 764.7,432.8 C764.5,437.1 764.8,442.5 764.2,446.8 C763.6,451.1 762.7,457.0 761.2,458.8 C759.7,460.6 756.6,458.6 755.2,457.8 C753.9,457.0 754.0,456.4 753.1,454.1 C752.2,451.8 751.4,447.3 749.7,443.9 C748.0,440.5 744.9,436.5 742.9,433.7 C740.9,430.9 740.1,429.5 737.8,426.9 C735.5,424.4 730.9,421.9 729.3,418.4 C727.7,414.9 728.1,410.7 728.2,405.8 C728.3,400.9 729.7,393.9 729.7,388.8 C729.7,383.7 729.7,378.8 728.0,375.1 C726.3,371.4 722.6,368.9 719.5,366.6 C716.4,364.3 711.3,364.9 709.3,361.5 C707.3,358.1 708.0,351.3 707.6,346.2 C707.2,341.1 705.9,335.5 706.7,330.9 C707.6,326.4 709.7,323.2 712.7,318.9 C715.7,314.6 722.0,310.1 724.6,305.3 C727.1,300.5 726.9,294.5 728.0,290.0 C729.1,285.5 729.6,283.0 731.3,278.5 C733.0,274.0 734.7,268.3 738.1,263.2 C741.5,258.1 748.7,253.0 751.8,247.9 C754.9,242.8 756.3,239.4 756.9,232.6 C757.5,225.8 755.5,214.1 755.2,207.0 C754.9,199.9 755.1,193.9 755.2,190.0 C755.4,186.1 755.7,186.9 756.1,183.6 C756.5,180.3 756.9,173.7 757.8,170.0 C758.6,166.3 759.8,164.1 761.2,161.5 C762.6,158.9 764.8,156.5 766.3,154.7 C767.8,152.9 767.1,152.6 770.0,150.7Z" fill="none" stroke="#111" stroke-width="1.3"/>
<path d="M770.0,145.1 C774.2,143.0 782.4,139.2 788.6,135.9 C794.8,132.7 801.5,129.0 807.1,125.6 C812.7,122.2 817.4,118.6 822.0,115.4 C826.6,112.1 829.7,109.0 835.0,106.1 C840.3,103.2 848.1,100.6 853.6,97.8 C859.1,95.0 864.1,91.0 868.2,89.3 C872.3,87.5 874.9,87.0 878.2,87.3 C881.5,87.5 885.7,88.9 888.2,90.8 C890.7,92.7 893.4,96.6 893.2,98.8 C893.0,101.0 889.7,102.5 887.2,103.8 C884.7,105.1 881.2,104.8 878.2,106.8 C875.2,108.8 871.8,112.2 869.2,115.8 C866.6,119.4 864.4,124.1 862.5,128.3 C860.6,132.6 857.8,138.4 857.6,141.3 C857.4,144.2 860.2,143.2 861.1,145.8 C862.0,148.4 862.2,152.3 862.8,157.0 C863.4,161.7 863.9,169.4 864.5,174.0 C865.1,178.6 865.8,181.5 866.2,184.3 C866.7,187.1 868.4,188.1 867.2,190.8 C866.0,193.6 861.2,196.6 859.2,200.8 C857.2,205.0 856.9,211.6 855.2,215.8 C853.5,220.0 850.5,221.6 849.2,225.8 C847.9,230.0 848.0,235.8 847.2,240.8 C846.4,245.8 845.2,250.8 844.2,255.8 C843.2,260.8 842.0,266.0 841.2,270.8 C840.4,275.6 840.2,279.8 839.2,284.8 C838.2,289.8 836.7,296.3 835.2,300.8 C833.7,305.3 831.5,308.5 830.2,311.8 C828.9,315.1 827.7,318.1 827.2,320.8 C826.7,323.5 828.2,325.5 827.2,327.8 C826.2,330.1 823.0,332.3 821.2,334.8 C819.4,337.3 818.2,339.8 816.2,342.8 C814.2,345.8 811.5,349.6 809.2,352.8 C806.9,356.0 803.9,359.0 802.2,361.8 C800.5,364.6 801.2,366.8 799.2,369.8 C797.2,372.8 792.9,376.8 790.2,379.8 C787.5,382.8 785.7,384.8 783.2,387.8 C780.7,390.8 777.4,394.3 775.2,397.8 C773.0,401.3 771.7,405.0 770.2,408.8 C768.7,412.6 767.0,416.8 766.2,420.8 C765.4,424.8 765.4,428.3 765.2,432.8 C765.0,437.3 765.5,443.0 765.2,447.8 C764.9,452.6 763.7,458.0 763.2,461.8 C762.7,465.6 762.9,468.1 762.2,470.8 C761.5,473.5 761.0,477.5 759.2,477.8 C757.4,478.1 753.5,474.0 751.2,472.8 C748.9,471.6 747.2,470.8 745.2,470.8 C743.2,470.8 741.2,474.1 739.2,472.8 C737.2,471.5 734.2,467.0 733.2,462.8 C732.2,458.6 733.5,451.8 733.2,447.8 C732.9,443.8 732.0,441.6 731.2,438.8 C730.4,436.0 729.5,433.6 728.2,430.8 C726.9,428.0 723.8,426.9 723.2,421.8 C722.6,416.7 724.6,406.9 724.6,400.0 C724.5,393.1 724.3,385.8 722.9,380.2 C721.5,374.6 719.2,370.9 716.1,366.6 C713.0,362.4 706.8,358.9 704.2,354.7 C701.7,350.4 701.1,346.2 700.8,341.1 C700.5,336.0 701.1,329.8 702.5,324.1 C703.9,318.4 707.5,311.7 709.3,307.0 C711.1,302.3 711.7,299.3 713.2,295.8 C714.7,292.3 716.3,289.2 718.2,285.8 C720.1,282.4 722.3,279.2 724.5,275.1 C726.7,271.1 729.0,265.8 731.3,261.5 C733.6,257.2 735.8,253.9 738.1,249.6 C740.4,245.4 743.6,241.7 745.0,236.0 C746.4,230.3 746.7,223.2 746.7,215.5 C746.7,207.8 745.4,196.7 745.0,190.0 C744.6,183.3 743.8,179.3 744.2,175.1 C744.6,170.9 745.6,168.3 747.6,164.9 C749.6,161.5 753.5,157.4 756.1,154.7 C758.7,152.0 760.9,150.4 763.2,148.8 C765.5,147.2 765.8,147.3 770.0,145.1Z" fill="none" stroke="#111" stroke-width="1.5"/>
<path d="M763.2,136.8 C765.0,134.7 766.7,133.4 770.0,132.1 C773.3,130.8 778.6,129.9 783.2,128.8 C787.9,127.7 792.4,127.4 797.9,125.6 C803.4,123.8 811.0,121.0 816.4,118.2 C821.8,115.4 827.9,112.6 830.4,108.9 C832.9,105.2 831.5,99.9 831.2,95.8 C830.9,91.7 828.9,88.1 828.6,84.3 C828.3,80.5 828.1,76.4 829.2,72.8 C830.3,69.2 832.0,64.5 835.2,62.8 C838.4,61.1 844.2,61.1 848.2,62.8 C852.2,64.5 855.0,69.8 859.2,72.8 C863.4,75.8 868.4,78.8 873.2,80.8 C878.0,82.8 883.9,81.8 888.2,84.8 C892.5,87.8 899.4,95.3 899.2,98.8 C899.0,102.3 890.5,104.0 887.2,105.8 C883.9,107.6 881.4,108.0 879.2,109.8 C877.0,111.6 875.7,114.3 874.2,116.8 C872.7,119.3 871.4,122.1 870.2,124.8 C869.0,127.5 867.9,129.8 867.2,132.8 C866.5,135.8 866.2,139.5 866.2,142.8 C866.2,146.1 866.9,149.5 867.2,152.8 C867.5,156.1 867.4,159.5 868.2,162.8 C869.0,166.1 871.7,169.5 872.2,172.8 C872.7,176.1 872.4,179.5 871.2,182.8 C870.0,186.1 867.4,189.3 865.2,192.8 C863.0,196.3 860.0,199.6 858.2,203.8 C856.4,208.0 855.7,214.1 854.2,217.8 C852.7,221.5 850.4,222.0 849.2,225.8 C848.0,229.6 848.0,235.8 847.2,240.8 C846.4,245.8 845.2,250.8 844.2,255.8 C843.2,260.8 842.0,266.0 841.2,270.8 C840.4,275.6 840.2,279.8 839.2,284.8 C838.2,289.8 836.7,296.3 835.2,300.8 C833.7,305.3 831.5,308.5 830.2,311.8 C828.9,315.1 827.7,318.1 827.2,320.8 C826.7,323.5 828.2,325.5 827.2,327.8 C826.2,330.1 823.0,332.3 821.2,334.8 C819.4,337.3 818.2,339.8 816.2,342.8 C814.2,345.8 811.5,349.6 809.2,352.8 C806.9,356.0 803.9,359.0 802.2,361.8 C800.5,364.6 801.2,366.8 799.2,369.8 C797.2,372.8 792.9,376.8 790.2,379.8 C787.5,382.8 785.7,384.8 783.2,387.8 C780.7,390.8 777.4,394.3 775.2,397.8 C773.0,401.3 771.7,405.0 770.2,408.8 C768.7,412.6 767.0,416.8 766.2,420.8 C765.4,424.8 765.4,428.3 765.2,432.8 C765.0,437.3 765.5,443.0 765.2,447.8 C764.9,452.6 763.7,458.0 763.2,461.8 C762.7,465.6 762.9,468.1 762.2,470.8 C761.5,473.5 761.0,477.5 759.2,477.8 C757.4,478.1 753.5,474.0 751.2,472.8 C748.9,471.6 747.2,470.8 745.2,470.8 C743.2,470.8 741.2,474.1 739.2,472.8 C737.2,471.5 734.2,467.0 733.2,462.8 C732.2,458.6 733.5,451.8 733.2,447.8 C732.9,443.8 732.0,441.6 731.2,438.8 C730.4,436.0 729.5,433.6 728.2,430.8 C726.9,428.0 724.9,426.9 723.2,421.8 C721.5,416.7 719.3,406.1 717.8,400.0 C716.3,393.9 716.1,390.1 714.4,385.4 C712.7,380.7 710.1,376.2 707.6,371.7 C705.1,367.1 701.7,363.2 699.1,358.1 C696.5,353.0 693.1,346.8 692.3,341.1 C691.4,335.4 692.9,329.8 694.0,324.1 C695.1,318.4 698.2,312.7 699.1,307.0 C700.0,301.3 698.3,294.8 699.1,290.0 C699.9,285.2 701.9,282.4 704.1,278.5 C706.4,274.6 709.2,270.6 712.6,266.6 C716.0,262.6 721.4,259.0 724.5,254.7 C727.6,250.5 730.4,247.6 731.3,241.1 C732.1,234.6 730.4,224.0 729.6,215.5 C728.7,207.0 726.4,196.6 726.2,190.0 C726.0,183.4 726.9,180.0 728.2,175.8 C729.5,171.6 731.3,168.4 734.0,164.9 C736.7,161.4 740.0,158.1 744.2,154.7 C748.5,151.3 756.3,147.5 759.5,144.5 C762.7,141.5 761.5,138.9 763.2,136.8Z" fill="none" stroke="#111" stroke-width="0.8"/>
</g>
<path d="M778.2,95.8 C779.5,94.4 782.0,93.6 784.7,92.5 C787.4,91.4 791.0,90.2 794.5,89.2 C798.0,88.2 801.8,87.7 805.8,86.8 C809.8,85.9 815.8,84.9 818.8,83.6 C821.8,82.2 822.3,80.3 823.7,78.7 C825.1,77.1 825.4,75.4 827.0,73.8 C828.6,72.2 830.8,70.1 833.5,68.9 C836.2,67.7 840.5,66.5 843.2,66.5 C845.9,66.5 847.8,67.4 849.7,68.9 C851.6,70.4 853.0,73.8 854.6,75.4 C856.2,77.0 857.6,77.6 859.5,78.7 C861.4,79.8 864.1,80.5 866.0,81.9 C867.9,83.2 868.7,86.0 870.9,86.8 C873.1,87.6 876.6,86.5 879.0,86.8 C881.4,87.1 883.9,86.8 885.5,88.4 C887.1,90.0 887.1,94.7 888.7,96.6 C890.3,98.5 894.7,98.9 895.2,99.8 C895.8,100.7 893.6,101.5 892.0,102.2 C890.4,102.9 887.7,102.9 885.5,103.9 C883.3,104.8 880.9,106.1 879.0,107.9 C877.1,109.6 875.2,111.9 874.1,114.4 C873.0,116.8 872.5,119.9 872.5,122.6 C872.5,125.3 873.3,127.5 874.1,130.7 C874.9,134.0 876.3,138.6 877.4,142.1 C878.5,145.6 880.4,148.4 880.6,151.8 C880.7,155.2 879.8,158.9 878.3,162.7 C876.8,166.5 873.2,170.9 871.5,174.6 C869.8,178.3 869.8,181.8 868.1,184.9 C866.4,188.0 863.5,190.3 861.3,193.4 C859.1,196.5 856.5,199.4 855.0,203.6 C853.5,207.9 853.2,214.7 852.2,218.9 C851.2,223.2 850.1,225.4 849.0,229.1 C847.9,232.8 846.9,237.0 845.5,241.0 C844.1,245.0 842.1,248.3 840.9,253.0 C839.7,257.7 839.0,264.4 838.1,269.4 C837.2,274.4 836.7,278.2 835.6,283.0 C834.5,287.8 832.9,294.1 831.3,298.4 C829.7,302.7 827.6,305.2 826.2,308.6 C824.8,312.0 823.4,316.0 822.8,318.8 C822.2,321.6 823.6,323.6 822.8,325.6 C821.9,327.6 819.4,328.4 817.7,330.7 C816.0,333.0 814.6,336.1 812.6,339.2 C810.6,342.3 808.1,346.3 805.8,349.4 C803.5,352.5 800.8,355.1 799.0,358.0 C797.2,360.9 797.2,363.8 795.2,366.8 C793.2,369.8 789.7,372.9 787.2,375.8 C784.7,378.7 783.0,381.2 780.4,384.3 C777.8,387.4 774.1,390.8 771.8,394.5 C769.5,398.2 768.2,402.1 766.7,406.4 C765.2,410.7 763.4,415.8 762.5,420.1 C761.6,424.4 761.7,427.5 761.6,432.0 C761.4,436.5 761.9,442.5 761.6,447.3 C761.3,452.1 760.5,457.2 759.9,460.9 C759.3,464.6 758.8,467.4 758.2,469.4 C757.6,471.4 757.6,473.1 756.5,472.8 C755.4,472.5 753.1,468.9 751.4,467.8 C749.7,466.7 747.7,466.6 746.3,466.0 C744.9,465.4 744.0,464.0 742.9,464.3 C741.8,464.6 740.4,468.9 739.5,467.8 C738.6,466.7 738.1,460.9 737.8,457.5 C737.5,454.1 738.1,450.7 737.8,447.3 C737.5,443.9 736.9,440.2 736.1,437.1 C735.2,434.0 734.1,431.4 732.7,428.6 C731.3,425.8 729.6,422.7 727.6,420.1 C725.6,417.6 723.3,415.0 720.8,413.3 C718.2,411.6 715.4,411.6 712.3,409.9 C709.2,408.2 705.4,405.5 702.0,403.0 C698.6,400.5 694.9,398.0 692.2,394.8 C689.5,391.6 687.1,387.5 685.7,383.8 C684.3,380.1 685.1,376.1 684.0,372.5 C682.9,368.9 680.2,365.4 678.8,362.3 C677.4,359.2 676.5,357.2 675.4,353.8 C674.3,350.4 673.7,344.7 672.0,341.9 C670.3,339.1 667.5,338.2 665.2,336.8 C662.9,335.4 659.2,335.4 658.4,333.4 C657.5,331.4 659.2,328.3 660.1,324.9 C661.0,321.5 662.4,316.9 663.5,312.9 C664.6,308.9 665.8,305.5 666.9,301.0 C668.0,296.5 669.4,291.4 670.2,285.8 C671.0,280.2 671.3,271.9 671.9,267.4 C672.5,262.9 673.0,261.7 673.6,258.9 C674.2,256.1 674.7,253.0 675.3,250.4 C675.9,247.8 675.9,245.3 677.0,243.6 C678.1,241.9 680.1,241.6 682.1,240.2 C684.1,238.8 686.7,237.7 689.0,235.1 C691.3,232.6 694.1,228.0 695.8,224.9 C697.5,221.8 698.1,219.2 699.2,216.3 C700.3,213.5 701.2,210.6 702.6,207.8 C704.0,205.0 706.3,202.0 707.7,199.3 C709.1,196.6 709.9,194.0 711.2,191.8 C712.5,189.6 713.5,188.9 715.4,186.2 C717.2,183.6 720.0,179.0 722.3,175.9 C724.6,172.8 727.1,170.2 729.1,167.4 C731.1,164.6 732.5,161.7 734.2,158.9 C735.9,156.1 737.3,152.9 739.3,150.4 C741.3,147.9 743.8,145.3 746.1,143.6 C748.4,141.9 750.6,141.9 752.9,140.2 C755.2,138.5 758.0,136.0 759.7,133.4 C761.4,130.8 761.7,127.5 763.1,124.9 C764.5,122.3 766.5,120.6 768.2,118.0 C769.9,115.4 771.9,112.3 773.3,109.5 C774.7,106.7 775.9,103.3 776.7,101.0 C777.5,98.7 776.9,97.2 778.2,95.8Z" fill="none" stroke="#000" stroke-width="1.6"/>
<text x="839.8" y="100.6" class="cl" text-anchor="middle" dominant-baseline="central" transform="rotate(-60 839.8 100.6)">30</text>
<text x="799.9" y="135" class="cl" text-anchor="middle" dominant-baseline="central" transform="rotate(-55 799.9 135)">10</text>
<text x="864.2" y="152.7" class="cl" text-anchor="middle" dominant-baseline="central" transform="rotate(-80 864.2 152.7)">30</text>
<text x="771.4" y="141.1" class="cl" text-anchor="middle" dominant-baseline="central" transform="rotate(-40 771.4 141.1)">60</text>
<text x="749.3" y="170" class="cl" text-anchor="middle" dominant-baseline="central" transform="rotate(-60 749.3 170)">30</text>
<text x="728" y="182" class="cl" text-anchor="middle" dominant-baseline="central" transform="rotate(-65 728 182)">60</text>
<text x="707.5" y="248.7" class="cl" text-anchor="middle" dominant-baseline="central" transform="rotate(-20 707.5 248.7)">200</text>
<text x="735.6" y="256.4" class="cl" text-anchor="middle" dominant-baseline="central" transform="rotate(-70 735.6 256.4)">30</text>
<text x="728.8" y="292.2" class="cl" text-anchor="middle" dominant-baseline="central" transform="rotate(-85 728.8 292.2)">10</text>
<text x="742.7" y="436.3" class="cl" text-anchor="middle" dominant-baseline="central" transform="rotate(-65 742.7 436.3)">10</text>
<text x="839" y="223.4" class="cl" text-anchor="middle" dominant-baseline="central" transform="rotate(-90 839 223.4)">10</text>
<text x="698" y="360" class="cl" text-anchor="middle" dominant-baseline="central" transform="rotate(-60 698 360)">60</text>
<text x="777.5" y="363" class="cl" text-anchor="middle" dominant-baseline="central" transform="rotate(-65 777.5 363)">10</text>
<line x1="588.7" y1="42.4" x2="962.8" y2="42.4" stroke="#6a6a6a" stroke-width="1.6"/>
<line x1="588.7" y1="520.8" x2="962.8" y2="520.8" stroke="#6a6a6a" stroke-width="1.6"/>
<line x1="594.7" y1="35.4" x2="594.7" y2="527.8" stroke="#444" stroke-width="1.4"/>
<line x1="955.8" y1="35.4" x2="955.8" y2="527.8" stroke="#222" stroke-width="1.3"/>
<line x1="654.9" y1="35.4" x2="654.9" y2="42.4" stroke="#222" stroke-width="1.2"/>
<line x1="654.9" y1="520.8" x2="654.9" y2="527.8" stroke="#222" stroke-width="1.2"/>
<line x1="715.1" y1="35.4" x2="715.1" y2="42.4" stroke="#222" stroke-width="1.2"/>
<line x1="715.1" y1="520.8" x2="715.1" y2="527.8" stroke="#222" stroke-width="1.2"/>
<line x1="775.2" y1="35.4" x2="775.2" y2="42.4" stroke="#222" stroke-width="1.2"/>
<line x1="775.2" y1="520.8" x2="775.2" y2="527.8" stroke="#222" stroke-width="1.2"/>
<line x1="835.4" y1="35.4" x2="835.4" y2="42.4" stroke="#222" stroke-width="1.2"/>
<line x1="835.4" y1="520.8" x2="835.4" y2="527.8" stroke="#222" stroke-width="1.2"/>
<line x1="895.6" y1="35.4" x2="895.6" y2="42.4" stroke="#222" stroke-width="1.2"/>
<line x1="895.6" y1="520.8" x2="895.6" y2="527.8" stroke="#222" stroke-width="1.2"/>
<line x1="588.7" y1="102.2" x2="594.7" y2="102.2" stroke="#444" stroke-width="1.4"/>
<line x1="955.8" y1="102.2" x2="962.8" y2="102.2" stroke="#444" stroke-width="1.4"/>
<line x1="588.7" y1="162.0" x2="594.7" y2="162.0" stroke="#444" stroke-width="1.4"/>
<line x1="955.8" y1="162.0" x2="962.8" y2="162.0" stroke="#444" stroke-width="1.4"/>
<line x1="588.7" y1="221.8" x2="594.7" y2="221.8" stroke="#444" stroke-width="1.4"/>
<line x1="955.8" y1="221.8" x2="962.8" y2="221.8" stroke="#444" stroke-width="1.4"/>
<line x1="588.7" y1="281.6" x2="594.7" y2="281.6" stroke="#444" stroke-width="1.4"/>
<line x1="955.8" y1="281.6" x2="962.8" y2="281.6" stroke="#444" stroke-width="1.4"/>
<line x1="588.7" y1="341.4" x2="594.7" y2="341.4" stroke="#444" stroke-width="1.4"/>
<line x1="955.8" y1="341.4" x2="962.8" y2="341.4" stroke="#444" stroke-width="1.4"/>
<line x1="588.7" y1="401.2" x2="594.7" y2="401.2" stroke="#444" stroke-width="1.4"/>
<line x1="955.8" y1="401.2" x2="962.8" y2="401.2" stroke="#444" stroke-width="1.4"/>
<line x1="588.7" y1="461.0" x2="594.7" y2="461.0" stroke="#444" stroke-width="1.4"/>
<line x1="955.8" y1="461.0" x2="962.8" y2="461.0" stroke="#444" stroke-width="1.4"/>
<text x="587.2" y="47.4" class="ax" text-anchor="end" transform="translate(587.2 0) scale(0.7 1) translate(-587.2 0)">25.5</text>
<circle cx="589.2" cy="35.8" r="1.25" fill="none" stroke="#333" stroke-width="1.45"/>
<text x="587.2" y="107.2" class="ax" text-anchor="end" transform="translate(587.2 0) scale(0.7 1) translate(-587.2 0)">25.0</text>
<circle cx="589.2" cy="95.6" r="1.25" fill="none" stroke="#333" stroke-width="1.45"/>
<text x="587.2" y="167.0" class="ax" text-anchor="end" transform="translate(587.2 0) scale(0.7 1) translate(-587.2 0)">24.5</text>
<circle cx="589.2" cy="155.4" r="1.25" fill="none" stroke="#333" stroke-width="1.45"/>
<text x="587.2" y="226.8" class="ax" text-anchor="end" transform="translate(587.2 0) scale(0.7 1) translate(-587.2 0)">24.0</text>
<circle cx="589.2" cy="215.2" r="1.25" fill="none" stroke="#333" stroke-width="1.45"/>
<text x="587.2" y="286.6" class="ax" text-anchor="end" transform="translate(587.2 0) scale(0.7 1) translate(-587.2 0)">23.5</text>
<circle cx="589.2" cy="275.0" r="1.25" fill="none" stroke="#333" stroke-width="1.45"/>
<text x="587.2" y="346.4" class="ax" text-anchor="end" transform="translate(587.2 0) scale(0.7 1) translate(-587.2 0)">23.0</text>
<circle cx="589.2" cy="334.8" r="1.25" fill="none" stroke="#333" stroke-width="1.45"/>
<text x="587.2" y="406.2" class="ax" text-anchor="end" transform="translate(587.2 0) scale(0.7 1) translate(-587.2 0)">22.5</text>
<circle cx="589.2" cy="394.6" r="1.25" fill="none" stroke="#333" stroke-width="1.45"/>
<text x="587.2" y="466.0" class="ax" text-anchor="end" transform="translate(587.2 0) scale(0.7 1) translate(-587.2 0)">22.0</text>
<circle cx="589.2" cy="454.4" r="1.25" fill="none" stroke="#333" stroke-width="1.45"/>
<text x="587.2" y="525.8" class="ax" text-anchor="end" transform="translate(587.2 0) scale(0.7 1) translate(-587.2 0)">21.5</text>
<circle cx="589.2" cy="514.2" r="1.25" fill="none" stroke="#333" stroke-width="1.45"/>
<text x="594.7" y="538.7" class="ax" text-anchor="middle" transform="translate(594.7 0) scale(0.7 1) translate(-594.7 0)">119.5</text>
<circle cx="610.7" cy="526.3" r="1.25" fill="none" stroke="#333" stroke-width="1.45"/>
<text x="654.9" y="538.7" class="ax" text-anchor="middle" transform="translate(654.9 0) scale(0.7 1) translate(-654.9 0)">120.0</text>
<circle cx="670.9" cy="526.3" r="1.25" fill="none" stroke="#333" stroke-width="1.45"/>
<text x="715.1" y="538.7" class="ax" text-anchor="middle" transform="translate(715.1 0) scale(0.7 1) translate(-715.1 0)">120.5</text>
<circle cx="731.1" cy="526.3" r="1.25" fill="none" stroke="#333" stroke-width="1.45"/>
<text x="775.2" y="538.7" class="ax" text-anchor="middle" transform="translate(775.2 0) scale(0.7 1) translate(-775.2 0)">121.0</text>
<circle cx="791.2" cy="526.3" r="1.25" fill="none" stroke="#333" stroke-width="1.45"/>
<text x="835.4" y="538.7" class="ax" text-anchor="middle" transform="translate(835.4 0) scale(0.7 1) translate(-835.4 0)">121.5</text>
<circle cx="851.4" cy="526.3" r="1.25" fill="none" stroke="#333" stroke-width="1.45"/>
<text x="895.6" y="538.7" class="ax" text-anchor="middle" transform="translate(895.6 0) scale(0.7 1) translate(-895.6 0)">122.0</text>
<circle cx="911.6" cy="526.3" r="1.25" fill="none" stroke="#333" stroke-width="1.45"/>
<text x="955.8" y="538.7" class="ax" text-anchor="middle" transform="translate(955.8 0) scale(0.7 1) translate(-955.8 0)">122.5</text>
<circle cx="971.8" cy="526.3" r="1.25" fill="none" stroke="#333" stroke-width="1.45"/>
<rect x="900.3" y="189.1" width="18.3" height="297.2" fill="url(#g2)" stroke="#333" stroke-width="1"/>
<line x1="918.6" y1="189.1" x2="924.6" y2="189.1" stroke="#333" stroke-width="1"/>
<text x="926.1" y="192.7" class="cb">250</text>
<line x1="918.6" y1="218.8" x2="924.6" y2="218.8" stroke="#333" stroke-width="1"/>
<text x="926.1" y="222.4" class="cb">225</text>
<line x1="918.6" y1="248.5" x2="924.6" y2="248.5" stroke="#333" stroke-width="1"/>
<text x="926.1" y="252.1" class="cb">200</text>
<line x1="918.6" y1="278.3" x2="924.6" y2="278.3" stroke="#333" stroke-width="1"/>
<text x="926.1" y="281.9" class="cb">175</text>
<line x1="918.6" y1="308.0" x2="924.6" y2="308.0" stroke="#333" stroke-width="1"/>
<text x="926.1" y="311.6" class="cb">150</text>
<line x1="918.6" y1="337.7" x2="924.6" y2="337.7" stroke="#333" stroke-width="1"/>
<text x="926.1" y="341.3" class="cb">125</text>
<line x1="918.6" y1="367.4" x2="924.6" y2="367.4" stroke="#333" stroke-width="1"/>
<text x="926.1" y="371.0" class="cb">100</text>
<line x1="918.6" y1="397.1" x2="924.6" y2="397.1" stroke="#333" stroke-width="1"/>
<text x="926.1" y="400.7" class="cb">75</text>
<line x1="918.6" y1="426.9" x2="924.6" y2="426.9" stroke="#333" stroke-width="1"/>
<text x="926.1" y="430.5" class="cb">50</text>
<line x1="918.6" y1="456.6" x2="924.6" y2="456.6" stroke="#333" stroke-width="1"/>
<text x="926.1" y="460.2" class="cb">25</text>
<line x1="918.6" y1="486.3" x2="924.6" y2="486.3" stroke="#333" stroke-width="1"/>
<text x="926.1" y="489.9" class="cb">0</text>
<text x="603" y="514.5" class="lab">SO2 沉積量 (mg/m2/day)</text>
<text x="953" y="516" class="tag" text-anchor="end">(SO2-2)</text>
<!-- captions -->
<text x="105.5" y="560.5" class="capz">圖</text>
<text x="128" y="560.5" class="cap">11</text>
<text x="179.5" y="560.5" class="cap">2007.05</text>
<text x="243.5" y="560.5" class="cap">~</text>
<text x="257.3" y="560.5" class="cap">2007.09</text>
<text x="322.5" y="561.3" class="capz">二氧化硫沉積速率</text><text x="472.5" y="557" class="capz">。</text>
<text y="588.5" class="cap"><tspan x="105.8">Figure</tspan><tspan x="157">11</tspan><tspan x="180">SO</tspan><tspan font-size="11.5" dy="3.5">2</tspan><tspan dy="-3.5" x="217.6">deposition</tspan><tspan x="303.5">rate</tspan><tspan x="340.8">between</tspan><tspan x="411">May</tspan><tspan x="453.8">of</tspan><tspan x="478">2007</tspan></text>
<text x="182.3" y="615.7" class="cap">and September of 2007.</text>
<text x="569.5" y="560.5" class="capz">圖</text>
<text x="592" y="560.5" class="cap">12</text>
<text x="643" y="560.5" class="cap">2007.09</text>
<text x="707" y="560.5" class="cap">~</text>
<text x="720.8" y="560.5" class="cap">2008.01</text>
<text x="785.5" y="561.3" class="capz">二氧化硫沉積速率</text><text x="935.5" y="557" class="capz">。</text>
<text y="588.5" class="cap"><tspan x="569.2">Figure</tspan><tspan x="619.4">12</tspan><tspan x="640.3">SO</tspan><tspan font-size="11.5" dy="3.5">2</tspan><tspan dy="-3.5" x="681">deposition</tspan><tspan x="767.8">rate</tspan><tspan x="805.5">between</tspan><tspan x="875.6">September</tspan><tspan x="963">of</tspan></text>
<text x="645.3" y="615.7" class="cap">2007 and January of 2008.</text>
</svg>
</body></html>
